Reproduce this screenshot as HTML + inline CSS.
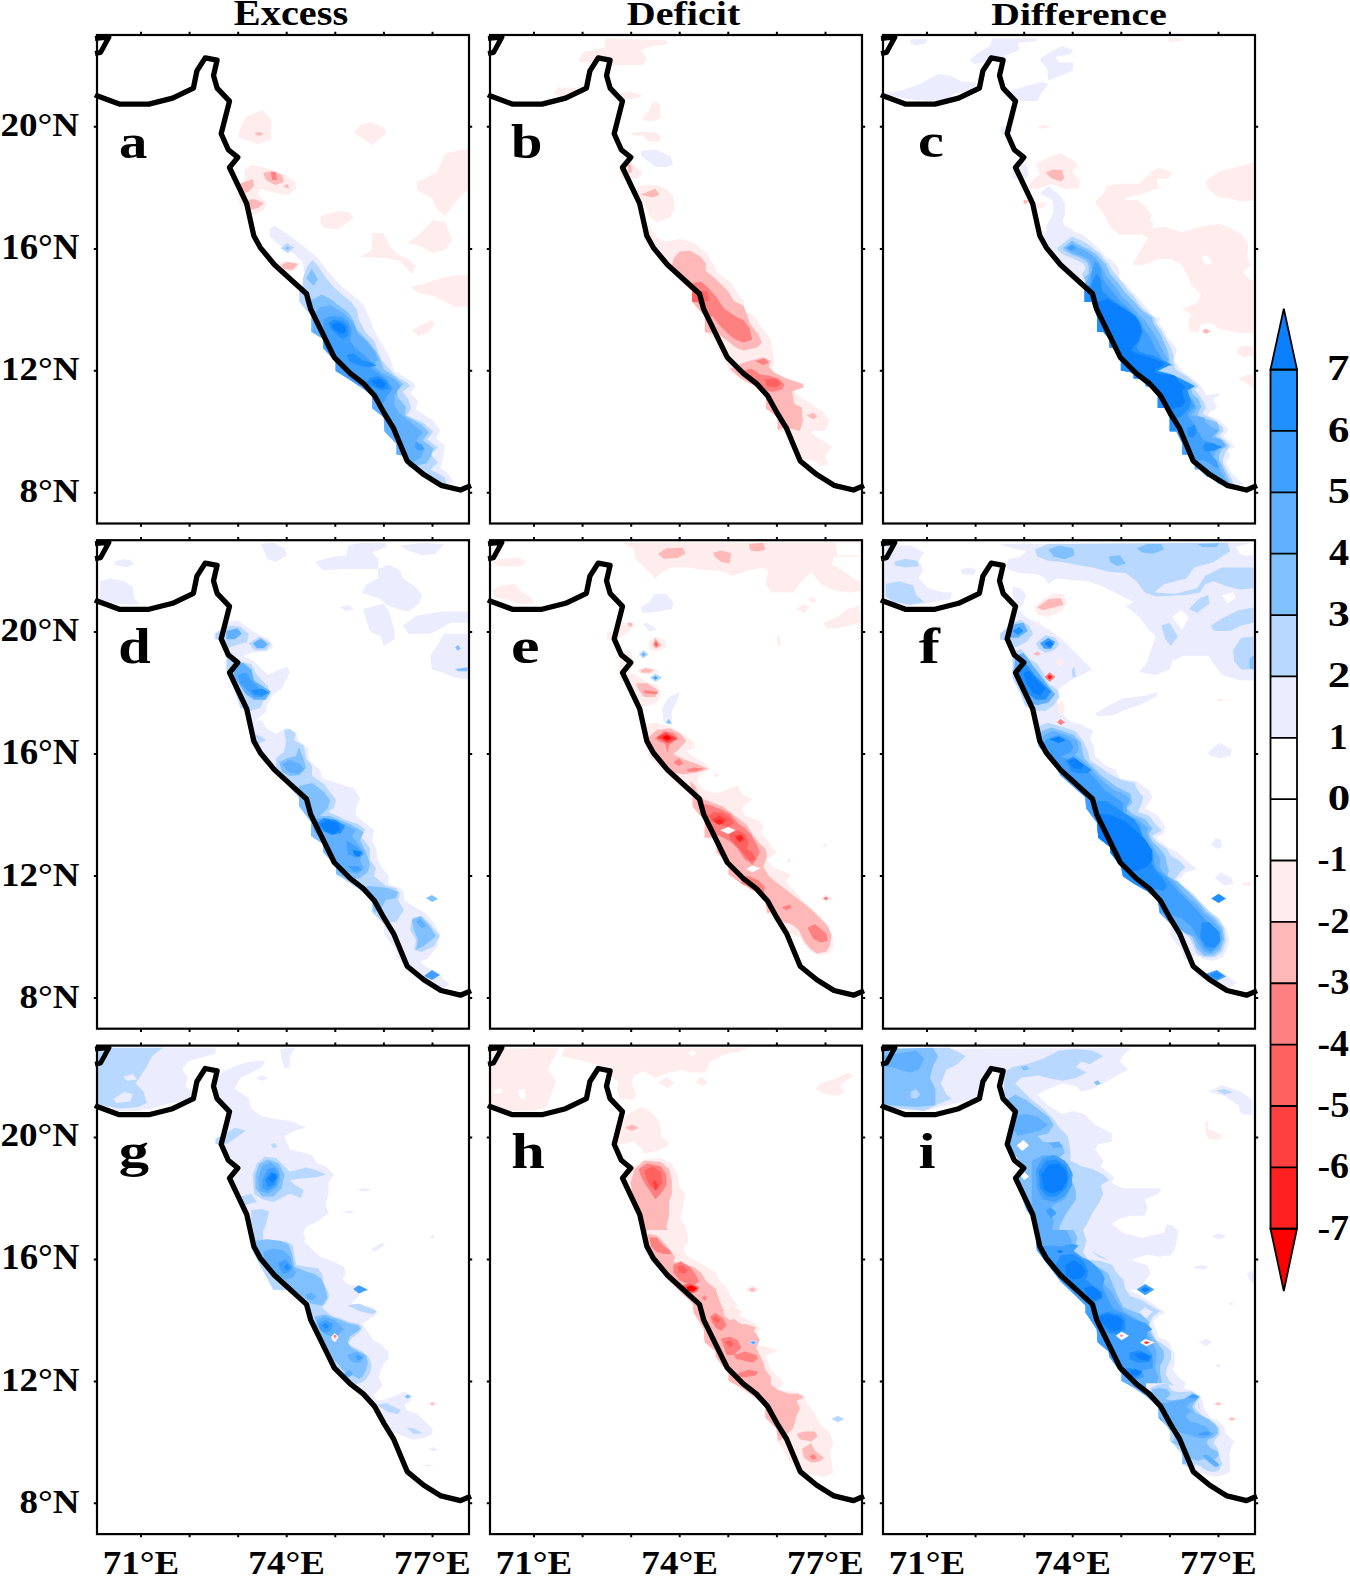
<!DOCTYPE html><html><head><meta charset="utf-8"><style>html,body{margin:0;padding:0;background:#fff;}svg{display:block;}text{font-family:"Liberation Serif",serif;font-weight:bold;}</style></head><body>
<svg width="1350" height="1577" viewBox="0 0 1350 1577">
<rect width="1350" height="1577" fill="#fff"/>
<defs><g id="coast"><polyline points="-2.0,59.7 0.0,60.8 22.3,69.1 51.9,69.1 75.6,63.1 96.4,53.1 99.9,35.9 108.2,22.9 120.1,25.2 116.5,40.6 120.1,53.1 132.5,66.1 124.2,98.7 131.3,114.7 140.8,122.4 132.5,132.5 149.7,168.7 156.8,200.7 163.3,212.6 177.5,229.7 209.5,258.8 213.7,274.2 237.3,322.3 253.3,338.3 266.3,348.3 277.6,360.8 287.1,378.0 296.6,393.4 310.2,426.0 326.8,439.6 344.0,450.3 363.5,455.0 372.0,451.4 374.0,450.5" fill="none" stroke="#000" stroke-width="5.3" stroke-linejoin="round" stroke-linecap="butt"/><polyline points="-2.0,3.5 12.0,2.0 3.5,17.5 -2.0,18.5" fill="none" stroke="#000" stroke-width="5" stroke-linejoin="round"/></g></defs>
<g transform="translate(97.0,35.0)">
<clipPath id="cpa"><rect x="0" y="0" width="372" height="488.5"/></clipPath>
<g clip-path="url(#cpa)">
<polygon points="149.0,82.0 165.0,75.0 174.0,84.0 174.0,105.0 161.0,109.0 141.0,102.0 144.0,91.0" fill="#ffecec"/>
<polygon points="157.0,98.0 162.0,97.0 167.0,99.0 162.0,101.0" fill="#ffb8b8"/>
<polygon points="257.0,98.0 263.0,90.0 274.0,87.0 288.0,93.0 289.0,99.0 275.0,110.0" fill="#ffecec"/>
<polygon points="320.0,147.0 329.0,143.0 340.0,137.0 348.0,119.0 363.0,115.0 372.0,115.0 372.0,154.0 360.0,165.0 348.0,181.0 339.0,173.0 335.0,163.0 320.0,155.0" fill="#ffecec"/>
<polygon points="224.0,181.0 241.0,176.0 251.0,177.0 257.0,183.0 241.0,194.0 227.0,193.0 223.0,187.0" fill="#ffecec"/>
<polygon points="263.0,222.0 275.0,215.0 275.0,198.0 286.0,198.0 294.0,213.0 303.0,221.0 310.0,223.0 319.0,231.0 315.0,239.0 303.0,226.0 289.0,223.0" fill="#ffecec"/>
<polygon points="310.0,208.0 323.0,199.0 336.0,185.0 348.0,187.0 355.0,205.0 348.0,215.0 336.0,218.0 323.0,211.0" fill="#ffecec"/>
<polygon points="314.0,252.0 327.0,249.0 347.0,242.0 363.0,240.0 372.0,240.0 372.0,271.0 358.0,272.0 349.0,267.0 337.0,261.0 321.0,258.0" fill="#ffecec"/>
<polygon points="315.0,295.0 324.0,290.0 335.0,285.0 338.0,290.0 330.0,298.0 321.0,301.0" fill="#ffecec"/>
<polygon points="149.0,133.0 155.0,130.0 169.0,133.0 187.0,139.0 198.0,147.0 199.0,154.0 191.0,160.0 175.0,157.0 163.0,154.0 161.0,160.0 169.0,167.0 167.0,175.0 155.0,180.0 149.0,173.0 142.0,168.0 141.0,159.0 143.0,151.0 148.0,143.0 147.0,137.0" fill="#ffecec"/>
<polygon points="166.0,138.0 175.0,136.0 185.0,140.0 187.0,147.0 178.0,150.0 169.0,145.0" fill="#ffb8b8"/>
<polygon points="174.0,137.0 179.0,137.0 180.0,145.0 175.0,145.0" fill="#ff8080"/>
<polygon points="142.0,149.0 156.0,144.0 157.0,151.0 151.0,157.0 142.0,159.0" fill="#ffb8b8"/>
<polygon points="151.0,165.0 157.0,164.0 167.0,168.0 161.0,173.0 153.0,175.0" fill="#ffb8b8"/>
<polygon points="186.0,151.0 191.0,149.0 192.0,154.0" fill="#ffb8b8"/>
<polygon points="179.0,234.0 185.0,226.0 203.0,228.0 199.0,235.0 189.0,238.0" fill="#ffecec"/>
<polygon points="184.0,230.0 191.0,227.0 201.0,229.0 195.0,235.0 187.0,234.0" fill="#ffb8b8"/>
<polygon points="173.0,193.0 177.4,190.7 190.8,198.9 202.3,208.1 214.7,217.9 221.0,223.2 226.3,230.8 234.3,240.1 244.0,250.7 254.7,259.6 265.4,268.5 271.6,280.9 276.0,293.3 284.0,307.6 288.5,314.7 293.8,325.3 297.3,336.0 315.1,346.6 318.6,352.0 313.3,358.2 321.3,366.2 318.6,374.2 336.4,385.7 343.5,395.5 339.1,403.5 348.0,410.6 346.2,421.2 343.5,432.8 351.5,439.0 356.8,447.9 348.0,449.7 332.9,440.8 324.0,437.2 315.1,433.7 311.5,431.9 310.7,421.2 299.5,419.5 299.5,408.8 287.6,396.4 286.7,382.2 275.1,373.3 275.1,360.8 262.7,351.1 250.3,343.1 238.7,336.0 238.7,327.1 226.3,312.9 226.3,304.0 214.2,296.9 214.2,280.9 202.3,266.7 202.3,256.0 204.1,252.5 207.6,243.6 205.9,227.6 197.9,219.6 183.7,211.6 173.0,201.9" fill="#ececff"/>
<polygon points="183.7,213.4 189.9,208.1 197.0,212.5 190.8,217.9" fill="#b8d8ff"/>
<polygon points="188.1,213.4 190.2,211.3 192.9,213.1 190.4,214.8" fill="#80c0ff"/>
<polygon points="205.9,243.6 210.3,231.2 215.6,225.0 221.8,232.1 228.1,241.8 236.1,251.6 244.0,258.7 254.7,267.6 260.0,274.7 261.8,284.5 268.9,297.8 277.8,306.7 280.5,315.6 284.9,325.3 291.1,332.4 298.2,340.4 309.8,347.5 313.3,351.1 305.3,356.4 311.5,364.4 314.2,373.3 309.8,380.4 325.8,387.5 336.4,396.4 330.2,404.4 340.9,412.4 333.7,419.5 340.9,427.5 333.7,434.6 348.0,442.5 349.7,449.7 348.0,449.7 332.9,440.8 324.0,437.2 315.1,433.7 311.5,431.9 310.7,421.2 299.5,419.5 299.5,408.8 287.6,396.4 286.7,382.2 275.1,373.3 275.1,360.8 262.7,351.1 250.3,343.1 238.7,336.0 238.7,327.1 226.3,312.9 226.3,304.0 214.2,296.9 214.2,280.9 202.3,266.7 202.3,256.0 205.9,256.0" fill="#b8d8ff"/>
<polygon points="209.4,243.6 214.7,233.8 221.0,244.5 216.5,250.7" fill="#80c0ff"/>
<polygon points="218.3,263.2 224.5,259.6 233.4,264.0 241.4,270.3 251.2,277.4 256.5,285.4 260.0,295.1 266.3,301.3 273.4,309.3 279.6,317.3 284.0,326.2 286.7,334.2 297.3,341.3 306.2,349.3 300.0,355.5 300.9,362.6 308.9,371.5 308.0,380.4 324.0,389.3 332.0,397.3 325.8,405.2 336.4,413.2 333.7,422.1 329.3,428.3 318.6,431.0 311.5,431.9 310.7,421.2 299.5,419.5 299.5,408.8 287.6,396.4 286.7,382.2 275.1,373.3 275.1,360.8 262.7,351.1 250.3,343.1 238.7,336.0 238.7,327.1 226.3,312.9 226.3,304.0 214.2,296.9 214.2,280.9 208.5,266.7" fill="#80c0ff"/>
<polygon points="223.6,272.0 233.4,270.3 247.6,279.1 256.5,288.0 260.9,298.7 268.9,305.8 277.8,316.4 281.3,325.3 275.1,329.8 284.9,337.8 297.3,344.0 303.6,351.1 297.3,360.8 297.3,369.7 302.7,378.6 315.1,388.4 325.8,397.3 319.5,405.2 327.5,414.1 324.0,423.0 313.3,428.3 310.7,421.2 299.5,419.5 299.5,408.8 287.6,396.4 286.7,382.2 275.1,373.3 275.1,360.8 262.7,351.1 250.3,343.1 238.7,336.0 238.7,327.1 226.3,312.9 226.3,304.0 215.6,296.9 215.6,280.9" fill="#60b0ff"/>
<polygon points="226.3,284.5 233.4,280.9 244.0,281.8 251.2,286.2 254.7,295.1 252.9,305.8 258.3,312.9 267.1,320.0 272.5,325.3 269.8,330.6 281.3,337.8 290.2,344.9 295.6,353.7 290.2,360.8 286.7,367.9 276.0,362.6 272.5,355.5 261.8,351.1 250.3,343.1 238.7,336.0 238.7,327.1 226.3,312.9 226.3,304.0" fill="#40a0ff"/>
<polygon points="318.6,407.0 324.9,409.7 327.5,414.1 322.2,415.9 317.8,412.4" fill="#40a0ff"/>
<polygon points="231.6,288.0 236.9,284.5 245.8,286.2 251.2,291.6 251.2,300.5 245.8,304.0 238.7,298.7 233.4,293.3" fill="#2090ff"/>
<polygon points="249.4,320.0 256.5,318.2 265.4,325.3 274.2,327.1 279.6,330.6 272.5,332.4 261.8,330.6 252.9,327.1" fill="#2090ff"/>
<polygon points="272.5,343.1 281.3,341.3 290.2,346.6 292.0,353.7 284.9,355.5 276.0,352.0 268.9,348.4" fill="#2090ff"/>
<polygon points="234.3,289.8 240.5,287.1 247.6,290.7 249.4,296.9 244.0,298.7 236.9,294.2" fill="#0a80ff"/>
<polygon points="274.2,344.9 283.1,344.0 288.5,348.4 286.7,352.9 279.6,352.0" fill="#0a80ff"/>
</g>
<use href="#coast"/>
<rect x="0" y="0" width="372" height="488.5" fill="none" stroke="#000" stroke-width="2.2"/>
<path d="M44.0,0v-3.2M44.0,488.5v3.2M92.6,0v-3.2M92.6,488.5v3.2M141.2,0v-3.2M141.2,488.5v3.2M189.7,0v-3.2M189.7,488.5v3.2M238.3,0v-3.2M238.3,488.5v3.2M286.9,0v-3.2M286.9,488.5v3.2M335.5,0v-3.2M335.5,488.5v3.2M0,91.8h-3.2M372,91.8h3.2M0,213.9h-3.2M372,213.9h3.2M0,335.8h-3.2M372,335.8h3.2M0,457.7h-3.2M372,457.7h3.2" stroke="#000" stroke-width="2" fill="none"/>
</g>
<g transform="translate(490.0,35.0)">
<clipPath id="cpb"><rect x="0" y="0" width="372" height="488.5"/></clipPath>
<g clip-path="url(#cpb)">
<polygon points="88.2,23.4 95.1,16.5 114.4,12.4 115.7,3.3 176.4,5.5 177.7,9.6 159.8,11.6 150.2,15.2 157.1,23.4 152.9,30.3 124.0,30.3 113.0,26.2 99.2,27.6 90.9,27.6" fill="#ffecec"/>
<polygon points="63.4,59.2 67.5,52.4 82.7,52.4 90.9,55.1 88.2,59.2 71.6,61.2" fill="#ffecec"/>
<polygon points="129.5,59.2 139.2,56.5 152.9,60.6 143.3,63.9 130.9,63.9" fill="#ffecec"/>
<polygon points="152.9,82.7 159.8,74.4 161.2,68.9 165.3,66.1 169.5,68.9 170.8,82.7 165.3,85.4 154.3,86.0" fill="#ffecec"/>
<polygon points="140.5,97.8 154.3,96.4 168.1,97.8 170.8,103.3 168.1,107.5 158.4,106.1 152.9,100.6 143.3,100.6" fill="#ffecec"/>
<polygon points="151.0,115.7 165.3,114.4 180.5,121.2 183.2,129.5 176.4,132.3 165.3,131.7 151.6,121.2" fill="#ececff"/>
<polygon points="129.5,129.5 137.8,126.2 143.3,129.5 152.9,137.8 148.8,143.3 132.3,144.7 129.0,137.8" fill="#ffecec"/>
<polygon points="137.8,130.1 141.1,129.5 141.9,137.2 138.3,137.8" fill="#ffb8b8"/>
<polygon points="143.3,157.1 152.9,150.2 168.1,150.2 176.4,154.3 183.2,161.2 184.6,172.2 180.5,181.9 166.7,187.4 159.8,181.9 154.3,168.1 148.8,162.6" fill="#ffecec"/>
<polygon points="150.2,159.8 165.3,153.8 169.5,159.8 162.6,162.6" fill="#ffb8b8"/>
<polygon points="158.5,190.2 166.3,201.9 176.0,206.7 189.6,203.8 203.1,207.7 215.8,217.4 224.5,231.0 226.4,236.8 242.0,248.4 245.8,256.2 253.6,265.9 253.6,275.6 265.2,281.4 269.1,289.2 280.8,304.7 282.7,316.4 284.7,328.0 280.8,335.8 296.3,343.5 311.8,348.4 314.7,351.3 304.1,357.1 311.8,362.9 323.5,370.7 333.2,376.5 339.0,386.2 335.1,395.9 319.6,395.9 329.3,403.7 341.9,411.5 335.1,421.2 338.0,428.9 331.2,430.9 323.5,425.0 311.8,424.1 307.9,415.3 306.0,405.6 294.4,395.9 287.6,395.9 287.6,382.3 275.9,373.6 275.9,361.0 263.3,350.3 250.7,343.5 239.1,335.8 238.1,331.9 227.4,312.5 226.4,306.7 214.8,297.0 214.8,281.4 202.2,266.9 202.2,256.2 195.4,250.4 187.6,242.6 179.9,234.9 174.0,227.1 164.3,215.5 156.6,203.8 154.2,202.8 154.2,192.2" fill="#ffecec"/>
<polygon points="183.7,223.2 189.6,216.4 200.2,215.8 209.9,221.3 215.8,228.1 215.8,235.8 226.4,244.6 238.1,256.2 243.9,265.9 253.6,270.8 257.5,281.4 260.4,289.2 268.2,298.9 272.0,307.6 267.2,312.5 253.6,315.4 245.8,312.5 236.1,304.7 228.4,298.9 214.8,297.0 214.8,281.4 202.2,266.9 202.2,256.2 195.4,250.4 187.6,242.6 181.8,231.0" fill="#ffb8b8"/>
<polygon points="240.0,333.8 255.5,327.0 273.0,322.2 280.8,326.1 278.8,331.9 284.7,337.7 296.3,343.5 311.8,348.4 313.8,352.3 302.1,356.2 304.1,368.8 311.8,372.6 312.8,386.2 309.9,395.9 294.4,392.1 287.6,395.0 287.6,382.3 275.9,373.6 275.9,361.0 263.3,350.3 250.7,343.5" fill="#ffb8b8"/>
<polygon points="316.7,380.4 323.5,377.5 327.3,381.4 323.5,384.3" fill="#ffb8b8"/>
<polygon points="201.2,248.4 210.9,246.5 217.7,252.3 226.4,262.0 234.2,273.7 245.8,281.4 253.6,285.3 259.4,293.1 262.3,304.7 253.6,307.6 245.8,304.7 238.1,298.9 230.3,291.1 222.6,281.4 214.8,281.4 214.8,275.6 207.0,266.9 202.2,266.9 202.2,256.2" fill="#ff8080"/>
<polygon points="202.2,256.2 217.7,256.2 218.7,265.9 202.2,266.9" fill="#ff6060"/>
<polygon points="251.7,335.8 261.4,333.8 271.1,339.7 278.8,340.6 288.5,343.5 294.4,349.4 292.4,354.2 282.7,357.1 275.0,355.2 265.2,348.4 257.5,343.5" fill="#ff8080"/>
<polygon points="275.0,344.5 284.7,343.5 291.4,348.4 286.6,352.3 276.9,351.3" fill="#ff6060"/>
<polygon points="265.2,326.1 275.0,323.2 278.8,328.0 273.0,330.0" fill="#ff8080"/>
</g>
<use href="#coast"/>
<rect x="0" y="0" width="372" height="488.5" fill="none" stroke="#000" stroke-width="2.2"/>
<path d="M44.0,0v-3.2M44.0,488.5v3.2M92.6,0v-3.2M92.6,488.5v3.2M141.2,0v-3.2M141.2,488.5v3.2M189.7,0v-3.2M189.7,488.5v3.2M238.3,0v-3.2M238.3,488.5v3.2M286.9,0v-3.2M286.9,488.5v3.2M335.5,0v-3.2M335.5,488.5v3.2M0,91.8h-3.2M372,91.8h3.2M0,213.9h-3.2M372,213.9h3.2M0,335.8h-3.2M372,335.8h3.2M0,457.7h-3.2M372,457.7h3.2" stroke="#000" stroke-width="2" fill="none"/>
</g>
<g transform="translate(883.0,35.0)">
<clipPath id="cpc"><rect x="0" y="0" width="372" height="488.5"/></clipPath>
<g clip-path="url(#cpc)">
<polygon points="27.6,4.1 44.1,4.1 42.7,8.3 33.1,10.5 27.6,8.3" fill="#ececff"/>
<polygon points="86.8,24.8 95.1,17.9 107.5,10.5 108.8,3.3 152.9,3.3 154.3,6.1 135.0,7.7 136.4,15.2 121.2,20.7 122.6,26.2 118.5,28.9 110.2,23.4 99.2,27.6 90.9,28.9" fill="#ececff"/>
<polygon points="157.1,23.4 168.1,16.5 179.1,11.0 190.1,15.2 187.4,19.3 172.2,22.0 176.4,27.6 190.1,27.6 190.1,35.8 176.4,41.3 165.3,45.5 164.0,33.1 158.4,27.6" fill="#ececff"/>
<polygon points="1.4,58.4 19.3,55.1 35.8,49.6 55.1,39.1 67.5,40.8 78.5,46.3 92.3,47.4 95.1,52.9 82.7,56.5 68.9,59.2 67.5,64.8 49.6,66.1 30.3,64.8 8.3,61.2" fill="#ececff"/>
<polygon points="125.4,56.5 143.3,51.0 159.8,46.8 165.3,49.6 158.4,57.9 154.3,66.1 137.8,66.1 129.5,64.8" fill="#ececff"/>
<polygon points="117.1,92.3 124.0,90.9 129.5,93.7 128.1,99.2 117.9,98.6" fill="#ececff"/>
<polygon points="129.5,132.3 137.8,124.0 143.3,129.5 146.0,140.5 140.5,144.7 129.5,143.3" fill="#ececff"/>
<polygon points="157.1,158.4 165.3,151.0 176.4,159.8 181.9,168.1 181.9,179.1 179.1,190.1 187.4,198.4 181.9,203.9 168.1,201.2 162.6,192.9 170.8,176.4 169.5,165.3" fill="#ececff"/>
<polygon points="147.4,147.4 157.1,139.2 152.9,129.5 165.3,122.6 177.7,117.9 192.9,127.3 194.3,130.9 188.8,136.4 197.0,146.0 196.2,152.9 181.9,154.3 168.1,148.8 154.3,154.3 146.0,152.9" fill="#ffecec"/>
<polygon points="162.6,137.8 169.5,134.5 179.1,135.0 181.3,143.3 177.7,146.6 168.1,143.3" fill="#ffb8b8"/>
<polygon points="150.2,166.7 165.3,168.1 158.4,173.6 148.8,172.2" fill="#ffecec"/>
<polygon points="140.5,165.3 144.7,165.3 144.7,168.6 140.5,168.6" fill="#ffb8b8"/>
<polygon points="213.6,165.3 221.8,157.1 223.2,151.0 237.0,148.8 256.3,148.8 264.5,140.5 272.8,140.5 275.6,152.9 256.3,159.8 242.5,162.6 239.7,169.5 259.0,176.4 271.4,190.1 264.5,192.9 256.3,199.8 237.0,199.8 228.7,192.9 226.0,179.1 217.7,172.2" fill="#ffecec"/>
<polygon points="265.9,137.8 275.6,132.8 289.3,137.2 285.2,143.3 272.8,143.8" fill="#ffecec"/>
<polygon points="322.4,146.0 336.2,136.4 352.7,132.3 363.7,129.5 370.6,126.8 370.6,165.3 358.2,166.7 350.0,164.0 336.2,162.6 325.2,154.3" fill="#ffecec"/>
<polygon points="154.3,91.5 162.6,89.6 168.1,92.3 157.1,93.7" fill="#ffecec"/>
<polygon points="285.2,6.9 286.6,3.3 300.4,3.3 297.6,6.1" fill="#ffecec"/>
<polygon points="213.6,165.0 253.5,165.0 261.1,170.7 268.7,180.2 264.9,187.8 268.7,193.5 280.1,191.6 299.1,197.3 318.2,191.6 337.2,188.8 348.6,193.5 360.0,201.1 365.7,210.6 363.8,220.2 367.6,229.7 360.0,237.3 367.6,244.9 370.5,244.9 370.5,298.1 356.2,298.1 337.2,294.3 329.6,288.6 318.2,288.6 314.4,298.1 306.8,296.2 304.9,286.7 308.7,279.1 301.1,273.4 314.4,267.7 318.2,260.1 308.7,250.6 304.9,241.1 299.1,229.7 287.7,224.0 276.3,224.0 261.1,229.7 249.7,229.7 253.5,222.1 259.2,212.5 264.9,203.0 253.5,195.4 240.2,199.2 226.9,191.6 223.1,184.0 219.3,176.4 212.6,168.8" fill="#ffecec"/>
<polygon points="318.2,222.1 324.8,220.2 329.6,227.8 322.9,230.6" fill="#ffffff"/>
<polygon points="319.1,296.2 322.9,293.4 327.7,296.2 322.9,299.1" fill="#ffb8b8"/>
<polygon points="354.3,313.3 360.0,310.5 370.5,311.4 370.5,321.0 360.0,321.9 355.3,319.1" fill="#ffecec"/>
<polygon points="355.3,343.8 363.8,340.0 370.5,339.0 370.5,353.3 361.9,347.6" fill="#ffecec"/>
<polygon points="299.1,274.4 308.7,270.6 314.4,273.4 308.7,279.1" fill="#ffecec"/>
<polygon points="162.2,198.5 165.3,192.3 170.5,187.1 179.8,186.0 180.9,190.2 187.1,193.3 191.2,196.4 199.5,199.5 205.7,204.7 210.9,208.9 217.1,215.1 223.4,222.3 228.6,225.4 233.7,230.6 236.9,236.9 235.8,243.1 243.1,249.3 248.3,255.5 253.4,260.7 258.6,266.9 264.9,274.2 271.1,281.4 277.3,282.5 275.2,287.7 280.4,293.9 283.5,301.1 288.7,307.4 293.9,313.6 291.4,325.0 298.9,336.1 310.0,343.5 318.3,350.9 322.9,360.2 335.9,358.3 337.7,359.3 330.3,363.9 334.0,373.1 326.6,376.9 324.8,380.6 335.0,384.3 343.3,391.7 345.1,395.4 340.5,400.9 347.0,406.5 351.6,412.0 345.1,414.8 347.0,421.3 343.3,426.9 347.0,436.1 354.4,443.5 360.0,449.1 356.3,450.9 345.1,450.0 335.9,449.1 327.6,442.6 323.9,441.7 316.4,434.3 311.8,434.3 311.8,429.6 304.4,419.4 299.3,419.4 299.3,408.3 293.3,396.3 286.8,396.3 286.8,383.3 282.2,373.1 274.8,373.1 274.8,361.1 267.4,351.9 262.7,350.9 262.7,349.1 256.3,343.5 250.7,343.5 250.7,338.9 247.0,337.0 237.9,335.4 237.9,322.9 231.7,312.6 226.5,312.6 226.5,304.3 220.3,297.0 214.0,297.0 214.0,281.4 208.9,266.9 201.6,266.9 201.6,255.5 207.8,257.6 176.7,228.6 163.2,210.9 158.0,200.6 159.1,195.4" fill="#ececff"/>
<polygon points="174.6,213.0 180.9,207.8 189.1,201.6 196.4,204.7 204.7,208.9 210.9,214.0 217.1,218.2 221.3,224.4 225.4,228.6 229.6,235.8 234.8,242.0 240.0,248.3 245.1,255.5 250.3,260.7 256.6,270.0 261.7,275.2 269.0,280.4 272.1,283.5 273.1,288.7 278.3,294.9 281.4,301.1 285.6,308.4 288.7,314.6 290.8,320.8 290.5,325.0 292.4,334.3 304.4,341.7 315.5,350.9 311.8,354.6 316.4,360.2 321.1,367.6 322.9,373.1 319.2,378.7 330.3,384.3 335.9,388.9 339.6,391.7 340.5,396.3 335.9,400.9 343.3,406.5 347.0,411.1 343.3,415.7 340.5,422.2 339.6,426.9 343.3,434.3 348.9,444.4 350.7,449.1 345.1,450.0 335.9,449.1 327.6,442.6 323.9,441.7 316.4,434.3 311.8,434.3 311.8,429.6 304.4,419.4 299.3,419.4 299.3,408.3 293.3,396.3 286.8,396.3 286.8,383.3 282.2,373.1 274.8,373.1 274.8,361.1 267.4,351.9 262.7,350.9 262.7,349.1 256.3,343.5 250.7,343.5 250.7,338.9 247.0,337.0 237.9,335.4 237.9,322.9 231.7,312.6 226.5,312.6 226.5,304.3 220.3,297.0 214.0,297.0 214.0,281.4 208.9,266.9 201.6,266.9 201.6,255.5 201.6,243.1 198.5,240.0 202.6,233.7 200.6,228.6 194.3,225.4 187.1,222.3 179.8,219.2 174.6,215.1" fill="#b8d8ff"/>
<polygon points="179.8,213.0 189.1,205.2 194.3,208.9 200.6,212.0 206.8,215.1 213.0,219.2 219.2,225.4 223.4,230.6 226.5,237.9 231.7,244.1 236.9,250.3 242.0,257.6 246.2,261.7 252.4,268.0 258.6,275.2 264.9,279.4 269.0,282.5 270.0,287.7 274.2,293.9 277.3,299.1 280.4,306.3 283.5,312.6 285.6,319.8 286.8,325.0 285.9,330.6 280.3,332.4 274.8,336.1 285.9,338.9 298.9,343.5 311.8,350.9 308.1,354.6 310.0,359.3 315.5,363.9 318.3,371.3 315.5,376.9 314.6,380.6 323.9,384.3 334.0,387.0 335.9,391.7 336.8,395.4 332.2,400.9 339.6,405.6 344.2,411.1 338.7,414.8 335.9,420.4 335.9,425.0 339.6,431.5 341.4,436.1 347.0,447.2 345.1,450.0 335.9,449.1 327.6,442.6 323.9,441.7 316.4,434.3 311.8,434.3 311.8,429.6 304.4,419.4 299.3,419.4 299.3,408.3 293.3,396.3 286.8,396.3 286.8,383.3 282.2,373.1 274.8,373.1 274.8,361.1 267.4,351.9 262.7,350.9 262.7,349.1 256.3,343.5 250.7,343.5 250.7,338.9 247.0,337.0 237.9,335.4 237.9,322.9 231.7,312.6 226.5,312.6 226.5,304.3 220.3,297.0 214.0,297.0 214.0,281.4 208.9,266.9 201.6,266.9 201.6,255.5 202.6,245.1 200.6,243.1 205.7,238.9 205.7,230.6 203.7,226.5 196.4,222.3 188.1,219.2 182.9,216.1" fill="#80c0ff"/>
<polygon points="182.9,213.0 189.1,208.3 195.4,212.5 201.6,215.1 207.8,219.2 213.0,223.4 217.1,228.6 220.3,234.8 223.4,241.0 228.6,247.2 233.7,253.4 238.9,261.7 244.1,265.9 250.3,273.1 256.6,280.4 261.7,284.6 264.9,289.7 270.0,297.0 274.2,304.3 277.3,310.5 281.4,318.8 285.6,325.0 282.2,327.8 270.1,336.1 282.2,338.0 295.1,343.5 308.1,350.9 302.6,356.5 306.3,361.1 310.9,366.7 313.7,373.1 310.9,376.9 308.1,380.6 321.1,382.4 322.9,388.0 328.5,391.7 335.9,395.4 328.5,401.9 337.7,404.6 342.4,410.2 335.9,413.9 332.2,417.6 330.3,423.1 335.9,430.6 337.7,436.1 342.4,444.4 345.1,448.1 345.1,450.0 335.9,449.1 327.6,442.6 323.9,441.7 316.4,434.3 311.8,434.3 311.8,429.6 304.4,419.4 299.3,419.4 299.3,408.3 293.3,396.3 286.8,396.3 286.8,383.3 282.2,373.1 274.8,373.1 274.8,361.1 267.4,351.9 262.7,350.9 262.7,349.1 256.3,343.5 250.7,343.5 250.7,338.9 247.0,337.0 237.9,335.4 237.9,322.9 231.7,312.6 226.5,312.6 226.5,304.3 220.3,297.0 214.0,297.0 214.0,281.4 208.9,266.9 201.6,266.9 201.6,255.5 203.7,247.2 208.9,234.8 207.8,228.6 205.7,224.4 198.5,221.3 191.2,218.2 186.0,216.1" fill="#60b0ff"/>
<polygon points="207.8,241.0 212.0,226.5 215.1,228.6 218.2,234.8 219.2,243.1 223.4,249.3 228.6,255.5 233.7,261.7 238.9,268.0 244.1,272.1 250.3,278.3 254.5,282.5 257.6,288.7 261.7,294.9 265.9,300.1 269.0,306.3 271.1,311.5 276.3,319.8 281.4,328.1 276.6,328.7 269.2,334.3 271.1,337.0 282.2,338.0 293.3,343.5 304.4,352.8 300.7,357.4 302.6,362.0 308.1,365.7 311.8,371.3 306.3,376.9 304.4,380.6 311.8,389.8 315.5,397.2 321.1,405.6 330.3,408.3 335.9,411.1 330.3,413.9 326.6,415.7 329.4,421.3 334.0,425.9 335.9,433.3 332.2,432.4 325.7,427.8 319.2,425.0 313.7,425.9 311.8,429.6 304.4,419.4 299.3,419.4 299.3,408.3 293.3,396.3 286.8,396.3 286.8,383.3 282.2,373.1 274.8,373.1 274.8,361.1 267.4,351.9 262.7,350.9 262.7,349.1 256.3,343.5 250.7,343.5 250.7,338.9 247.0,337.0 237.9,335.4 237.9,322.9 231.7,312.6 226.5,312.6 226.5,304.3 220.3,297.0 214.0,297.0 214.0,281.4 208.9,266.9 201.6,266.9 201.6,255.5 207.8,247.2" fill="#40a0ff"/>
<polygon points="184.0,213.0 189.1,209.9 193.3,213.0 189.1,215.6" fill="#40a0ff"/>
<polygon points="202.6,251.4 207.8,251.4 210.9,243.1 213.0,238.9 216.1,241.0 218.2,247.2 219.2,255.5 223.4,259.7 229.6,264.9 237.9,271.1 246.2,276.3 252.4,280.4 257.6,287.7 259.7,296.0 257.6,303.2 255.5,308.4 253.4,312.6 256.6,316.7 262.8,318.8 271.1,320.8 277.3,324.0 283.5,327.1 289.7,330.2 285.9,330.6 274.8,336.1 287.7,338.9 298.9,344.4 311.8,350.9 304.4,355.6 306.3,361.1 308.1,365.7 306.3,373.1 302.6,376.9 297.0,382.4 293.3,384.3 286.8,396.3 286.8,383.3 282.2,373.1 274.8,373.1 274.8,361.1 267.4,351.9 262.7,350.9 262.7,349.1 256.3,343.5 250.7,343.5 250.7,338.9 247.0,337.0 237.9,335.4 237.9,322.9 231.7,312.6 226.5,312.6 226.5,304.3 220.3,297.0 214.0,297.0 214.0,281.4 208.9,266.9 201.6,266.9 201.6,255.5" fill="#2090ff"/>
<polygon points="286.8,383.3 293.3,383.3 293.3,396.3 286.8,396.3" fill="#2090ff"/>
<polygon points="304.4,393.5 311.8,389.8 313.7,397.2 310.0,402.8 304.4,400.9" fill="#2090ff"/>
<polygon points="319.2,412.0 322.9,407.4 330.3,408.3 339.6,412.0 330.3,415.7 322.9,416.7" fill="#2090ff"/>
<polygon points="213.5,266.9 219.2,265.9 224.4,263.8 229.6,266.9 237.9,272.1 246.2,277.3 252.4,281.4 256.6,288.7 258.6,296.0 256.6,302.2 254.5,307.4 250.3,311.5 248.3,315.7 254.5,318.8 261.7,320.8 269.0,322.9 276.3,326.0 281.4,328.1 279.4,331.2 273.1,334.3 271.1,337.4 279.4,339.5 291.8,340.6 295.1,345.4 302.6,351.9 298.9,355.6 300.7,362.0 302.6,366.7 298.9,371.3 291.4,373.1 285.9,376.9 277.6,360.2 259.0,342.6 247.0,331.5 236.9,321.9 225.4,299.1 213.5,274.2" fill="#0a80ff"/>
</g>
<use href="#coast"/>
<rect x="0" y="0" width="372" height="488.5" fill="none" stroke="#000" stroke-width="2.2"/>
<path d="M44.0,0v-3.2M44.0,488.5v3.2M92.6,0v-3.2M92.6,488.5v3.2M141.2,0v-3.2M141.2,488.5v3.2M189.7,0v-3.2M189.7,488.5v3.2M238.3,0v-3.2M238.3,488.5v3.2M286.9,0v-3.2M286.9,488.5v3.2M335.5,0v-3.2M335.5,488.5v3.2M0,91.8h-3.2M372,91.8h3.2M0,213.9h-3.2M372,213.9h3.2M0,335.8h-3.2M372,335.8h3.2M0,457.7h-3.2M372,457.7h3.2" stroke="#000" stroke-width="2" fill="none"/>
</g>
<g transform="translate(97.0,540.2)">
<clipPath id="cpd"><rect x="0" y="0" width="372" height="488.5"/></clipPath>
<g clip-path="url(#cpd)">
<polygon points="16.5,21.8 26.2,19.1 33.1,19.6 37.2,24.0 30.3,26.8 19.3,25.2" fill="#ececff"/>
<polygon points="2.8,41.1 13.8,38.4 27.6,41.1 35.8,46.6 37.2,57.7 42.7,63.7 33.1,64.6 13.8,63.2 2.8,61.8" fill="#ececff"/>
<polygon points="164.0,3.9 176.4,2.6 187.4,8.1 190.1,15.0 179.1,21.8 170.8,19.1" fill="#ececff"/>
<polygon points="217.7,21.8 234.2,16.9 249.4,15.0 250.8,5.3 264.5,2.6 289.3,2.6 289.3,6.7 275.6,12.2 281.1,19.1 281.1,28.7 250.8,28.7 226.0,30.1" fill="#ececff"/>
<polygon points="264.5,52.2 270.0,43.9 281.1,38.4 281.1,28.7 292.1,24.6 303.1,30.1 305.9,38.4 316.9,45.3 325.2,54.9 322.4,63.2 311.4,71.4 300.4,68.7 289.3,64.6 283.8,59.0" fill="#ececff"/>
<polygon points="305.9,85.2 319.6,75.6 344.4,71.4 370.6,71.4 370.6,82.5 352.7,82.5 344.4,88.0 333.4,93.5 311.4,93.5" fill="#ececff"/>
<polygon points="303.1,5.3 325.2,2.6 347.2,3.9 338.9,13.6 325.2,15.0 308.6,9.4" fill="#ececff"/>
<polygon points="265.9,68.7 286.6,63.2 292.1,71.4 297.6,90.7 297.6,99.0 286.6,105.9 283.8,96.2 272.8,90.7" fill="#ececff"/>
<polygon points="333.4,115.5 347.2,93.5 370.6,93.5 370.6,139.0 358.2,137.6 344.4,132.1 334.8,129.3" fill="#ececff"/>
<polygon points="242.5,67.3 250.8,64.6 257.6,68.7 249.4,70.9" fill="#ececff"/>
<polygon points="358.2,107.3 361.0,104.5 363.7,108.6 360.4,110.6" fill="#80c0ff"/>
<polygon points="358.2,128.8 370.6,127.1 370.6,131.0 361.0,131.0" fill="#80c0ff"/>
<polygon points="117.1,93.5 129.5,82.5 140.5,79.7 151.6,88.0 159.8,93.5 172.2,99.0 176.4,107.3 168.1,111.4 154.3,112.8 146.0,115.5 157.1,121.0 165.3,129.3 170.8,134.8 181.9,129.3 190.1,126.6 192.9,132.1 184.6,148.6 176.4,154.1 168.1,167.9 165.3,173.4 151.6,173.4 143.3,167.9 140.5,159.6 132.3,134.8 129.5,129.3 129.5,115.5 124.0,99.0 117.1,99.0" fill="#ececff"/>
<polygon points="118.5,93.5 132.3,85.2 143.3,86.6 151.6,93.5 150.2,101.8 140.5,104.5 132.3,107.3 129.5,115.5 140.5,121.0 154.3,123.8 159.8,134.8 170.8,145.8 173.6,154.1 165.3,165.1 154.3,167.9 143.3,167.9 141.9,162.4 132.3,134.8 129.5,129.3 129.5,115.5 124.0,99.0 118.5,99.0" fill="#b8d8ff"/>
<polygon points="151.6,103.1 162.6,96.2 173.6,103.1 169.5,110.0 157.1,110.0" fill="#b8d8ff"/>
<polygon points="129.5,90.7 140.5,88.0 144.7,93.5 137.8,99.0 129.5,99.0" fill="#60b0ff"/>
<polygon points="155.7,103.1 164.0,98.4 170.8,104.0 166.7,108.1 159.8,108.1" fill="#60b0ff"/>
<polygon points="135.0,126.6 146.0,122.4 154.3,129.3 157.1,140.3 165.3,145.8 173.6,151.4 168.1,159.6 157.1,159.6 148.8,154.1 143.3,145.8 137.8,137.6" fill="#60b0ff"/>
<polygon points="140.5,134.8 148.8,132.1 154.3,140.3 162.6,148.6 170.8,151.4 165.3,156.9 157.1,156.9 148.8,148.6 143.3,143.1" fill="#40a0ff"/>
<polygon points="154.3,150.0 165.3,148.6 172.2,152.7 165.3,155.5 157.1,154.1" fill="#2090ff"/>
<polygon points="141.0,159.8 171.0,159.8 169.0,171.8 157.0,181.8 165.0,179.8 169.0,187.8 179.0,193.8 189.0,187.8 199.0,191.8 201.0,199.8 211.0,207.8 212.0,219.8 223.0,229.8 225.0,237.8 243.0,243.8 257.0,247.8 263.0,257.8 259.0,267.8 259.0,275.8 277.0,289.8 275.0,299.8 279.0,307.8 281.0,319.8 285.0,327.8 292.0,335.8 291.0,343.8 303.0,347.8 307.0,351.8 307.0,359.8 319.0,367.8 327.0,371.8 335.0,379.8 343.0,393.8 341.0,405.8 331.0,417.8 323.0,421.8 331.0,427.8 343.0,433.8 347.0,439.8 353.0,443.8 347.0,447.8 343.0,449.8 311.0,427.8 301.0,417.8 299.0,409.8 287.0,393.8 287.0,383.8 275.0,371.8 275.0,359.8 263.0,349.8 251.0,341.8 239.0,333.8 239.0,325.8 226.0,311.8 226.0,303.8 214.0,295.8 214.0,281.8 202.0,265.8 202.0,257.8 179.0,231.8 157.0,205.8 153.0,203.8 153.0,193.8 147.0,167.8" fill="#ececff"/>
<polygon points="141.0,159.8 167.0,159.8 163.0,167.8 151.0,171.8" fill="#b8d8ff"/>
<polygon points="157.0,193.8 163.0,195.8 169.0,199.8 161.0,203.8 155.0,203.8" fill="#b8d8ff"/>
<polygon points="179.0,217.8 187.0,211.8 189.0,201.8 187.0,189.8 193.0,188.8 199.0,193.8 197.0,199.8 207.0,205.8 209.0,217.8 215.0,225.8 215.0,235.8 227.0,243.8 233.0,251.8 239.0,259.8 237.0,267.8 231.0,271.8 241.0,275.8 249.0,279.8 261.0,283.8 269.0,289.8 261.0,293.8 267.0,299.8 273.0,307.8 273.0,319.8 279.0,327.8 277.0,335.8 289.0,345.8 299.0,347.8 303.0,353.8 301.0,359.8 307.0,369.8 303.0,375.8 299.0,381.8 289.0,381.8 287.0,383.8 275.0,371.8 275.0,359.8 263.0,349.8 251.0,341.8 239.0,333.8 239.0,325.8 226.0,311.8 226.0,303.8 214.0,295.8 214.0,281.8 202.0,265.8 202.0,257.8 179.0,231.8" fill="#b8d8ff"/>
<polygon points="315.0,377.8 325.0,375.8 333.0,383.8 343.0,395.8 337.0,405.8 325.0,411.8 317.0,409.8 319.0,399.8 313.0,389.8" fill="#b8d8ff"/>
<polygon points="182.0,221.8 191.0,217.8 199.0,215.8 202.0,206.8 207.0,219.8 209.0,227.8 203.0,234.8 193.0,235.8 185.0,231.8" fill="#80c0ff"/>
<polygon points="202.0,245.8 215.0,242.8 227.0,251.8 233.0,259.8 231.0,267.8 223.0,275.8 233.0,275.8 243.0,279.8 253.0,283.8 267.0,291.8 263.0,299.8 269.0,311.8 273.0,323.8 271.0,331.8 263.0,337.8 251.0,339.8 239.0,333.8 239.0,325.8 226.0,311.8 226.0,303.8 214.0,295.8 214.0,281.8 202.0,265.8 202.0,257.8" fill="#80c0ff"/>
<polygon points="263.0,347.8 273.0,345.8 291.0,347.8 301.0,351.8 299.0,357.8 289.0,359.8 283.0,369.8 277.0,371.8 275.0,359.8 263.0,349.8" fill="#80c0ff"/>
<polygon points="315.0,379.8 323.0,375.8 331.0,383.8 339.0,395.8 327.0,405.8 319.0,409.8 321.0,399.8 317.0,389.8" fill="#80c0ff"/>
<polygon points="185.0,223.8 193.0,219.8 203.0,223.8 207.0,228.8 201.0,233.8 191.0,231.8" fill="#60b0ff"/>
<polygon points="215.0,279.8 223.0,277.8 235.0,279.8 247.0,283.8 259.0,289.8 255.0,295.8 261.0,303.8 267.0,311.8 263.0,319.8 267.0,327.8 261.0,333.8 251.0,331.8 241.0,325.8 231.0,309.8 227.0,299.8 217.0,291.8" fill="#60b0ff"/>
<polygon points="319.0,381.8 323.0,377.8 329.0,385.8 325.0,387.8" fill="#60b0ff"/>
<polygon points="249.0,299.8 261.0,307.8 267.0,313.8 259.0,317.8 251.0,313.8" fill="#40a0ff"/>
<polygon points="251.0,325.8 261.0,325.8 265.0,329.8 257.0,331.8" fill="#40a0ff"/>
<polygon points="220.0,282.8 227.0,277.8 239.0,279.8 248.0,285.8 244.0,292.8 235.0,294.8 226.0,290.8" fill="#2090ff"/>
<polygon points="223.0,283.8 231.0,279.8 241.0,282.8 243.0,289.8 237.0,293.8 229.0,291.8" fill="#0a80ff"/>
<polygon points="256.0,309.8 265.0,311.8 262.0,316.8 257.0,314.8" fill="#0a80ff"/>
<polygon points="327.0,435.8 335.0,429.8 343.0,434.8 335.0,439.8" fill="#40a0ff"/>
<polygon points="329.0,357.8 335.0,354.8 341.0,358.8 335.0,361.8" fill="#80c0ff"/>
</g>
<use href="#coast"/>
<rect x="0" y="0" width="372" height="488.5" fill="none" stroke="#000" stroke-width="2.2"/>
<path d="M44.0,0v-3.2M44.0,488.5v3.2M92.6,0v-3.2M92.6,488.5v3.2M141.2,0v-3.2M141.2,488.5v3.2M189.7,0v-3.2M189.7,488.5v3.2M238.3,0v-3.2M238.3,488.5v3.2M286.9,0v-3.2M286.9,488.5v3.2M335.5,0v-3.2M335.5,488.5v3.2M0,91.8h-3.2M372,91.8h3.2M0,213.9h-3.2M372,213.9h3.2M0,335.8h-3.2M372,335.8h3.2M0,457.7h-3.2M372,457.7h3.2" stroke="#000" stroke-width="2" fill="none"/>
</g>
<g transform="translate(490.0,540.2)">
<clipPath id="cpe"><rect x="0" y="0" width="372" height="488.5"/></clipPath>
<g clip-path="url(#cpe)">
<polygon points="132.3,2.6 370.6,2.6 370.6,16.3 355.5,16.3 344.4,16.3 341.7,24.6 352.7,30.1 363.7,38.4 370.6,41.1 370.6,50.8 358.2,52.2 341.7,49.4 330.7,43.9 322.4,32.9 314.1,38.4 303.1,52.2 281.1,52.2 275.6,43.9 278.3,30.1 272.8,27.4 259.0,30.1 242.5,35.6 228.7,30.1 214.9,30.1 198.4,27.4 181.9,27.4 170.8,32.9 165.3,38.4 157.1,30.1 146.0,19.1 143.3,8.1" fill="#ffecec"/>
<polygon points="345.8,3.1 370.6,3.1 370.6,15.0 347.2,15.0" fill="#ffffff"/>
<polygon points="168.1,13.6 176.4,8.1 192.9,7.5 195.6,13.6 187.4,17.7 173.6,18.5" fill="#ffb8b8"/>
<polygon points="223.2,12.2 231.5,10.3 241.1,13.0 239.7,23.2 231.5,21.8 224.6,16.3" fill="#ffb8b8"/>
<polygon points="259.0,3.9 272.8,2.6 275.6,9.4 267.3,11.4 260.4,10.3" fill="#ffb8b8"/>
<polygon points="2.8,21.8 11.0,18.5 30.3,17.7 35.8,21.8 30.3,26.0 8.3,26.0" fill="#ffecec"/>
<polygon points="2.8,49.4 11.0,45.3 24.8,43.9 30.3,50.8 41.3,57.7 44.1,63.2 30.3,63.7 16.5,59.0 5.5,57.7" fill="#ffecec"/>
<polygon points="150.2,67.3 159.8,61.8 164.0,53.5 176.4,53.5 183.2,61.8 181.9,68.7 165.3,72.0 152.9,72.8" fill="#ececff"/>
<polygon points="305.9,68.7 314.1,63.7 319.6,67.3 314.1,72.8" fill="#ffecec"/>
<polygon points="318.3,59.0 322.4,56.3 326.5,60.4 322.4,62.6" fill="#ffecec"/>
<polygon points="333.4,82.5 347.2,77.0 358.2,68.7 369.2,65.9 370.6,82.5 358.2,85.2 347.2,88.0 336.2,88.0" fill="#ffecec"/>
<polygon points="286.6,94.9 289.3,96.2 290.7,104.5 288.0,105.9" fill="#ffecec"/>
<polygon points="117.1,92.1 124.0,90.7 132.3,82.5 140.5,81.9 144.7,85.2 136.4,93.5 126.8,99.0 117.1,99.0" fill="#ffecec"/>
<polygon points="137.8,82.5 142.7,83.0 141.9,86.3 138.3,85.8" fill="#ffb8b8"/>
<polygon points="152.9,83.8 157.1,82.5 166.7,89.4 159.8,91.3" fill="#ececff"/>
<polygon points="158.4,101.8 165.3,96.2 175.0,100.4 176.4,107.3 166.7,111.4 159.3,108.6" fill="#ffecec"/>
<polygon points="162.0,105.1 165.3,97.9 171.4,105.6 165.9,108.9" fill="#ffb8b8"/>
<polygon points="164.2,104.5 165.9,100.1 168.6,105.1 166.2,106.7" fill="#ff6060"/>
<polygon points="148.8,114.2 153.5,110.0 158.4,114.2 153.5,118.3" fill="#b8d8ff"/>
<polygon points="151.6,114.2 153.5,112.2 155.7,114.2 153.5,116.1" fill="#60b0ff"/>
<polygon points="129.5,112.8 137.8,110.0 141.9,115.5 143.3,123.8 139.2,132.1 132.3,141.7 129.5,137.6" fill="#ffecec"/>
<polygon points="147.4,129.3 154.3,126.6 165.3,128.8 169.5,132.1 159.8,134.3 150.2,133.4" fill="#ffecec"/>
<polygon points="150.2,130.4 155.7,127.9 164.0,129.9 159.8,132.6 152.1,132.6" fill="#ffb8b8"/>
<polygon points="159.8,137.6 165.3,133.4 172.2,137.6 165.3,141.7" fill="#b8d8ff"/>
<polygon points="163.1,137.6 165.3,135.7 168.1,137.6 165.3,139.5" fill="#40a0ff"/>
<polygon points="135.0,134.8 143.3,133.4 154.3,140.3 168.1,145.8 170.8,154.1 166.7,162.4 154.3,166.5 146.0,165.1 143.3,156.9 137.8,145.8" fill="#ffecec"/>
<polygon points="146.0,143.1 157.1,143.1 168.1,150.0 165.3,156.9 154.3,156.9 148.8,150.0" fill="#ffb8b8"/>
<polygon points="154.3,150.0 168.1,151.9 166.7,154.1 154.3,153.0" fill="#ff8080"/>
<polygon points="172.2,167.9 179.1,156.9 190.1,151.4 187.4,159.6 181.9,170.6 181.9,181.7 173.6,181.7" fill="#ececff"/>
<polygon points="175.8,183.0 178.6,178.9 181.9,183.9" fill="#80c0ff"/>
<polygon points="157.6,183.5 166.8,182.6 181.5,187.2 194.4,194.5 203.6,201.9 205.4,207.4 196.2,211.1 203.6,216.6 212.8,222.1 220.1,227.6 216.4,231.3 209.1,235.0 207.2,242.3 214.6,249.7 225.6,253.4 236.7,249.7 247.7,245.1 251.4,253.4 262.4,258.9 251.4,268.1 255.0,275.4 269.8,280.9 273.4,286.5 269.8,292.0 277.1,299.3 282.6,308.5 286.3,312.2 277.1,319.6 282.6,326.9 301.0,334.3 295.5,341.6 302.9,349.0 310.2,356.3 313.9,361.9 324.9,371.0 334.1,380.2 339.6,389.4 343.3,396.8 343.3,407.8 339.6,413.3 328.6,415.2 321.2,411.5 313.9,404.1 310.2,396.8 302.9,395.0 295.5,391.3 288.1,380.2 277.1,372.9 275.3,361.9 264.2,350.8 251.4,343.5 238.5,334.3 238.5,323.2 226.5,312.2 226.5,297.5 214.6,297.5 214.6,280.9 202.6,266.2 202.6,257.0 183.3,240.5 177.8,235.0 159.4,216.6 155.7,205.5 153.9,198.2 155.7,185.3" fill="#ffecec"/>
<polygon points="329.5,358.2 336.0,354.5 343.3,358.2 336.0,361.9" fill="#ffecec"/>
<polygon points="333.2,358.2 336.0,356.3 338.7,358.2 336.0,360.0" fill="#ff8080"/>
<polygon points="332.3,304.8 335.0,303.0 337.8,305.2 335.0,307.1" fill="#ffecec"/>
<polygon points="296.4,320.5 299.2,318.6 301.9,320.8 299.2,322.7" fill="#ffecec"/>
<polygon points="223.8,235.0 226.5,233.1 229.3,235.5 226.5,237.4" fill="#ffecec"/>
<polygon points="159.4,196.4 166.8,189.9 179.7,188.1 190.7,193.6 196.2,200.9 188.8,209.2 183.3,213.8 194.4,219.3 207.2,223.9 218.3,228.5 207.2,232.2 194.4,234.0 185.2,233.1 177.8,231.3 166.8,216.6 157.6,201.9" fill="#ffb8b8"/>
<polygon points="199.9,240.5 205.4,246.0 209.1,257.0 218.3,260.7 233.0,266.2 242.2,273.6 249.5,279.1 256.9,284.6 262.4,293.8 267.9,301.2 275.3,308.5 277.1,315.9 273.4,326.9 279.0,336.1 288.1,343.5 295.5,349.0 304.7,356.3 312.1,361.9 321.2,369.2 330.4,378.4 337.8,385.8 341.5,395.0 339.6,406.0 336.0,411.5 326.8,413.3 319.4,407.8 313.9,400.5 308.4,389.4 301.0,383.9 293.7,382.1 288.1,376.6 286.3,371.0 277.1,372.9 275.3,361.9 264.2,350.8 251.4,343.5 238.5,334.3 238.5,323.2 226.5,312.2 226.5,297.5 214.6,297.5 214.6,280.9 202.6,266.2 202.6,257.0" fill="#ffb8b8"/>
<polygon points="164.9,198.2 174.1,190.8 183.3,192.7 188.8,198.2 183.3,201.9 178.7,205.5 177.8,212.9 175.1,203.7 168.6,200.9" fill="#ff8080"/>
<polygon points="183.3,222.1 188.8,218.4 193.4,223.0 188.8,225.8" fill="#ff8080"/>
<polygon points="196.2,229.5 203.6,227.2 214.6,228.5 205.4,231.3 198.0,231.3" fill="#ff8080"/>
<polygon points="210.9,264.4 218.3,264.4 233.0,269.9 240.3,273.6 247.7,282.8 255.0,288.3 260.6,293.8 266.1,303.0 269.8,312.2 266.1,319.6 262.4,325.1 258.7,321.4 255.0,319.6 247.7,308.5 240.3,301.2 233.0,297.5 225.6,293.8 216.4,286.5 212.8,275.4" fill="#ff8080"/>
<polygon points="251.4,336.1 258.7,336.1 267.9,339.8 275.3,347.1 273.4,352.7 264.2,350.8 256.9,345.3 251.4,343.5" fill="#ff8080"/>
<polygon points="317.6,387.6 324.9,383.9 336.0,393.1 337.8,400.5 330.4,402.3 323.1,398.6" fill="#ff8080"/>
<polygon points="291.8,367.4 299.2,364.6 301.9,367.4 296.4,370.1" fill="#ff8080"/>
<polygon points="218.3,275.4 223.8,271.7 233.0,272.7 240.3,277.3 244.0,282.8 238.5,286.5 229.3,284.6 221.9,280.9" fill="#ff6060"/>
<polygon points="238.5,293.8 247.7,290.1 255.0,293.8 258.7,301.2 256.9,308.5 262.4,312.2 266.1,319.6 260.6,321.4 255.0,315.9 249.5,308.5 244.0,303.0 240.3,299.3" fill="#ff6060"/>
<polygon points="221.9,279.1 229.3,275.4 236.7,279.1 233.0,282.8 225.6,282.8" fill="#ff4040"/>
<polygon points="244.0,295.7 251.4,293.8 255.0,299.3 249.5,303.0" fill="#ff4040"/>
<polygon points="223.8,281.9 229.3,279.1 234.8,281.9 229.3,284.6" fill="#ff2020"/>
<polygon points="245.9,297.5 250.4,294.7 253.2,298.4 249.5,301.2" fill="#ff2020"/>
<polygon points="166.8,197.3 176.0,192.3 187.0,198.2 177.8,202.8" fill="#ff4040"/>
<polygon points="172.3,197.3 176.9,194.9 181.5,197.8 176.9,200.4" fill="#ff0000"/>
<polygon points="230.2,290.1 238.5,286.8 245.5,290.1 238.5,293.8" fill="#ffffff"/>
<polygon points="256.0,328.8 262.4,325.4 270.7,328.0 262.4,332.1" fill="#ffffff"/>
</g>
<use href="#coast"/>
<rect x="0" y="0" width="372" height="488.5" fill="none" stroke="#000" stroke-width="2.2"/>
<path d="M44.0,0v-3.2M44.0,488.5v3.2M92.6,0v-3.2M92.6,488.5v3.2M141.2,0v-3.2M141.2,488.5v3.2M189.7,0v-3.2M189.7,488.5v3.2M238.3,0v-3.2M238.3,488.5v3.2M286.9,0v-3.2M286.9,488.5v3.2M335.5,0v-3.2M335.5,488.5v3.2M0,91.8h-3.2M372,91.8h3.2M0,213.9h-3.2M372,213.9h3.2M0,335.8h-3.2M372,335.8h3.2M0,457.7h-3.2M372,457.7h3.2" stroke="#000" stroke-width="2" fill="none"/>
</g>
<g transform="translate(883.0,540.2)">
<clipPath id="cpf"><rect x="0" y="0" width="372" height="488.5"/></clipPath>
<g clip-path="url(#cpf)">
<polygon points="0.0,3.9 11.0,5.3 27.6,5.3 41.3,12.2 35.8,20.5 40.0,30.1 35.8,38.4 45.5,48.0 60.6,52.2 68.9,52.2 67.5,59.0 55.1,60.4 41.3,63.7 22.0,65.9 0.0,61.8" fill="#ececff"/>
<polygon points="77.2,30.1 85.4,27.4 93.7,29.6 90.9,34.2 79.9,34.2" fill="#ececff"/>
<polygon points="115.7,3.9 370.6,2.6 370.6,140.3 358.2,140.3 338.9,134.8 330.7,123.8 325.2,115.5 300.4,115.5 289.3,121.0 286.6,129.3 272.8,134.8 256.3,132.1 264.5,121.0 268.7,107.3 272.8,96.2 264.5,88.0 256.3,77.0 242.5,65.9 250.8,61.8 239.7,56.3 228.7,50.8 217.7,45.3 203.9,41.1 187.4,39.8 173.6,38.4 165.3,43.9 161.2,37.0 154.3,34.2 137.8,32.9 126.8,30.1 122.6,26.0 125.4,19.1 137.8,16.3 143.3,10.8 129.5,8.1" fill="#ececff"/>
<polygon points="289.3,77.0 297.6,70.1 305.9,77.0 299.0,89.4" fill="#ffffff"/>
<polygon points="338.9,54.9 350.0,52.2 352.7,57.7 344.4,63.2" fill="#ffffff"/>
<polygon points="352.7,6.7 366.5,3.1 370.6,3.1 370.6,15.0 358.2,15.0" fill="#ffffff"/>
<polygon points="209.4,3.1 217.7,3.1 216.3,10.8 210.8,9.4" fill="#ffffff"/>
<polygon points="151.6,9.4 165.3,3.9 344.4,2.6 347.2,10.8 330.7,21.8 311.4,27.4 303.1,38.4 281.1,43.9 271.4,52.2 292.1,53.5 314.1,48.0 322.4,35.6 338.9,27.4 370.6,27.4 370.6,48.0 355.5,49.4 341.7,45.3 330.7,41.1 322.4,43.9 316.9,52.2 303.1,54.9 272.8,56.3 261.8,52.2 253.5,41.1 242.5,32.9 226.0,31.5 209.4,27.4 192.9,24.6 179.1,21.8 165.3,20.5 154.3,16.3" fill="#b8d8ff"/>
<polygon points="327.9,85.2 338.9,78.3 355.5,70.1 370.6,67.3 370.6,82.5 358.2,85.2 347.2,90.7 330.7,90.7" fill="#b8d8ff"/>
<polygon points="305.9,68.7 316.9,57.7 325.2,54.9 326.5,63.2 314.1,72.8" fill="#b8d8ff"/>
<polygon points="278.3,85.2 286.6,82.5 294.8,96.2 288.0,105.9 282.4,99.0" fill="#b8d8ff"/>
<polygon points="350.0,110.0 358.2,97.6 370.6,96.2 370.6,129.3 358.2,129.3 351.3,121.0" fill="#b8d8ff"/>
<polygon points="2.8,43.9 16.5,41.1 30.3,45.3 33.1,54.9 41.3,61.8 27.6,64.6 11.0,61.8 2.8,56.3" fill="#b8d8ff"/>
<polygon points="11.0,21.8 22.0,18.5 34.4,20.5 35.8,26.0 22.0,27.4 12.4,25.2" fill="#b8d8ff"/>
<polygon points="165.3,9.4 176.4,5.3 190.1,8.1 191.5,15.0 181.9,19.1 170.8,16.3" fill="#80c0ff"/>
<polygon points="226.0,16.3 237.0,15.0 242.5,23.2 234.2,26.0 227.3,21.8" fill="#80c0ff"/>
<polygon points="253.5,8.1 264.5,3.9 278.3,3.9 281.1,9.4 270.0,13.6 259.0,12.2" fill="#80c0ff"/>
<polygon points="314.1,3.9 336.2,3.1 333.4,6.7 319.6,6.7" fill="#80c0ff"/>
<polygon points="366.5,118.3 370.6,115.5 370.6,129.3 366.5,127.9" fill="#80c0ff"/>
<polygon points="129.5,46.6 137.8,48.0 143.3,54.9 140.5,63.2 135.0,68.7 143.3,77.0 154.3,82.5 168.1,90.7 179.1,99.0 190.1,110.0 201.2,121.0 209.4,129.3 198.4,134.8 187.4,140.3 176.4,148.6 170.8,154.1 176.4,165.1 181.9,176.2 187.4,181.7 198.4,184.4 206.7,192.7 165.3,192.7 154.3,192.7 148.8,167.9 132.3,132.1 140.5,121.0 124.0,99.0 132.3,65.9 129.5,54.9" fill="#ececff"/>
<polygon points="151.0,67.3 159.8,59.0 170.8,53.5 180.5,53.5 184.1,63.2 179.1,70.1 165.3,77.0 154.3,74.2" fill="#ffecec"/>
<polygon points="154.3,67.3 165.3,59.0 177.7,57.7 180.5,64.6 170.8,67.3 159.8,70.1" fill="#ffb8b8"/>
<polygon points="152.9,82.5 157.1,81.1 157.1,85.2 153.5,85.2" fill="#ffecec"/>
<polygon points="163.1,89.4 166.7,88.0 168.1,90.7 164.0,91.3" fill="#ffecec"/>
<polygon points="117.1,93.5 129.5,82.5 137.8,79.7 146.0,85.2 150.2,93.5 143.3,101.8 132.3,107.3 126.8,101.8 117.1,99.0" fill="#b8d8ff"/>
<polygon points="124.0,92.1 132.3,83.8 140.5,82.5 144.7,90.7 135.0,97.6 126.8,97.6" fill="#60b0ff"/>
<polygon points="129.5,90.7 136.4,86.6 140.5,90.7 135.0,94.9" fill="#2090ff"/>
<polygon points="152.9,103.1 162.6,94.9 172.2,97.6 176.4,104.5 170.8,110.0 162.6,112.8 155.7,108.6" fill="#b8d8ff"/>
<polygon points="157.1,103.1 165.3,97.6 172.2,101.8 168.1,108.6 161.2,108.6" fill="#40a0ff"/>
<polygon points="161.2,103.1 166.7,100.4 170.8,104.0 166.2,107.3" fill="#0a80ff"/>
<polygon points="150.2,113.6 154.3,111.4 158.4,113.6 154.3,115.5" fill="#ffb8b8"/>
<polygon points="172.2,122.4 176.4,118.3 181.9,122.4 177.2,126.6" fill="#ffecec"/>
<polygon points="161.2,136.8 166.7,132.1 172.2,136.8 166.7,141.7" fill="#ff8080"/>
<polygon points="164.0,136.8 166.7,134.3 169.5,136.8 166.7,139.2" fill="#ff2020"/>
<polygon points="188.8,129.3 191.5,126.6 192.9,136.2 189.6,137.6" fill="#b8d8ff"/>
<polygon points="129.5,112.8 137.8,108.6 146.0,118.3 154.3,123.8 159.8,132.1 165.3,143.1 175.0,150.0 176.4,156.9 170.8,165.1 162.6,170.6 150.2,170.6 141.9,165.1 137.8,154.1 132.3,143.1 129.5,137.6" fill="#b8d8ff"/>
<polygon points="132.3,115.5 140.5,112.8 148.8,123.8 157.1,134.8 165.3,145.8 172.2,154.1 165.3,162.4 154.3,165.1 146.0,162.4 140.5,154.1 135.0,143.1 130.9,132.1" fill="#60b0ff"/>
<polygon points="135.0,126.6 143.3,123.8 151.6,134.8 159.8,143.1 168.1,151.4 162.6,159.6 152.9,159.6 146.0,154.1 140.5,145.8 136.4,137.6" fill="#2090ff"/>
<polygon points="140.5,132.1 146.0,130.7 154.3,140.3 162.6,148.6 157.1,155.5 150.2,152.7 143.3,143.1" fill="#0a80ff"/>
<polygon points="175.0,165.1 178.6,159.6 181.9,167.9 179.1,176.2 175.8,172.0" fill="#ffecec"/>
<polygon points="173.6,182.2 177.7,178.9 181.9,182.2 177.7,185.8" fill="#ff8080"/>
<polygon points="212.2,173.4 226.0,165.1 239.7,158.2 261.8,155.5 275.6,151.4 272.8,156.9 256.3,165.1 239.7,170.6 231.5,174.8 214.9,176.2" fill="#ececff"/>
<polygon points="325.2,212.0 333.4,205.1 336.2,202.3 348.6,209.2 347.2,216.1 336.2,217.5 327.9,216.1" fill="#ececff"/>
<polygon points="332.0,159.6 337.6,158.2 341.7,160.2 336.2,161.3" fill="#ffecec"/>
<polygon points="155.4,179.8 184.8,183.5 199.5,185.3 210.6,190.8 206.9,198.2 210.6,205.5 212.4,216.6 223.4,225.8 232.6,229.5 236.3,238.6 252.9,240.5 265.7,249.7 269.4,257.0 262.0,268.1 274.9,275.4 282.3,286.5 280.4,293.8 273.1,297.5 284.1,306.7 295.1,312.2 302.5,319.6 313.5,328.8 302.5,332.4 295.1,339.8 302.5,347.1 313.5,356.3 319.1,363.7 326.4,372.9 333.8,378.4 343.0,387.6 346.6,400.5 343.0,411.5 339.3,417.0 330.1,420.7 319.1,418.9 311.7,415.2 308.0,418.9 300.7,418.9 298.8,409.7 287.8,396.8 287.8,383.9 276.8,372.9 274.9,360.0 263.9,350.8 251.0,343.5 240.0,336.1 238.1,326.9 227.1,312.2 227.1,306.7 215.2,297.5 214.2,282.8 203.2,268.1 202.3,257.0 177.5,235.0 173.8,227.6 155.4,205.5 153.6,198.2 151.7,183.5" fill="#ececff"/>
<polygon points="324.6,213.8 335.6,202.8 348.5,209.2 347.6,214.7 337.4,218.4" fill="#ececff"/>
<polygon points="328.2,304.8 331.9,298.4 337.4,299.3 339.3,306.7 333.8,308.5" fill="#ececff"/>
<polygon points="331.9,337.9 337.4,332.4 348.5,337.9 350.3,343.5 341.1,345.3" fill="#ececff"/>
<polygon points="311.7,431.7 320.9,433.6 331.9,429.9 341.1,433.6 354.0,442.8 348.5,446.4 343.0,448.3 324.6,440.9 313.5,435.4" fill="#ececff"/>
<polygon points="157.2,185.3 164.6,182.6 181.1,187.2 192.2,190.8 199.5,200.0 205.0,211.1 206.9,220.3 217.9,227.6 225.3,233.1 232.6,236.8 241.8,240.5 251.0,242.3 254.7,249.7 260.2,257.0 258.4,264.4 254.7,271.7 265.7,275.4 273.1,284.6 278.6,290.1 269.4,295.7 273.1,301.2 284.1,308.5 287.8,315.9 295.1,319.6 302.5,326.9 297.0,332.4 291.5,339.8 298.8,345.3 306.2,350.8 313.5,358.2 319.1,363.7 326.4,371.0 335.6,378.4 341.1,387.6 343.0,400.5 339.3,411.5 331.9,417.0 320.9,417.0 313.5,413.3 309.9,404.1 306.2,396.8 295.1,389.4 287.8,383.9 276.8,372.9 274.9,360.0 263.9,350.8 251.0,343.5 240.0,336.1 238.1,326.9 227.1,312.2 227.1,306.7 215.2,297.5 214.2,282.8 203.2,268.1 202.3,257.0 177.5,235.0 173.8,227.6 155.4,205.5 153.6,198.2" fill="#b8d8ff"/>
<polygon points="159.1,190.8 168.3,187.2 179.3,190.8 190.3,194.5 197.7,201.9 199.5,211.1 201.4,218.4 210.6,227.6 217.9,235.0 225.3,240.5 232.6,246.0 240.0,249.7 247.3,253.4 249.2,262.6 243.7,268.1 249.2,273.6 262.0,279.1 269.4,288.3 265.7,293.8 269.4,301.2 276.8,308.5 282.3,315.9 284.1,325.1 286.0,330.6 284.1,336.1 295.1,341.6 302.5,349.0 309.9,356.3 317.2,363.7 322.7,371.0 331.9,378.4 339.3,387.6 341.1,398.6 337.4,409.7 330.1,415.2 320.9,415.2 313.5,407.8 309.9,398.6 306.2,393.1 297.0,387.6 287.8,383.9 276.8,372.9 274.9,360.0 263.9,350.8 251.0,343.5 240.0,336.1 238.1,326.9 227.1,312.2 227.1,306.7 215.2,297.5 214.2,282.8 203.2,268.1 202.3,257.0 177.5,235.0 173.8,227.6 155.4,205.5 153.6,198.2" fill="#80c0ff"/>
<polygon points="160.9,194.5 170.1,190.8 183.0,194.5 194.0,200.0 195.8,209.2 192.2,214.7 199.5,220.3 206.9,227.6 214.2,235.0 221.6,242.3 230.8,249.7 240.0,253.4 247.3,258.9 243.7,266.2 243.7,273.6 254.7,279.1 265.7,288.3 263.9,292.0 265.7,299.3 271.2,308.5 276.8,317.7 276.8,326.9 280.4,332.4 291.5,341.6 298.8,350.8 306.2,358.2 313.5,363.7 320.9,372.9 330.1,380.2 337.4,389.4 339.3,398.6 335.6,407.8 328.2,413.3 320.9,411.5 315.4,404.1 311.7,396.8 302.5,393.1 295.1,387.6 287.8,383.9 276.8,372.9 274.9,360.0 263.9,350.8 251.0,343.5 240.0,336.1 238.1,326.9 227.1,312.2 227.1,306.7 215.2,297.5 214.2,282.8 203.2,268.1 202.3,257.0 177.5,235.0 173.8,227.6 155.4,205.5" fill="#60b0ff"/>
<polygon points="164.6,198.2 175.6,194.5 186.7,200.0 190.3,207.4 186.7,212.9 181.1,214.7 177.5,216.6 188.5,220.3 197.7,225.8 206.9,233.1 214.2,240.5 221.6,249.7 232.6,257.0 240.0,262.6 240.0,271.7 251.0,279.1 258.4,286.5 258.4,293.8 263.9,301.2 269.4,312.2 271.2,321.4 273.1,328.8 284.1,337.9 291.5,347.1 298.8,354.5 306.2,361.9 313.5,369.2 320.9,378.4 330.1,385.8 337.4,393.1 335.6,404.1 328.2,411.5 320.9,407.8 317.2,400.5 313.5,395.0 308.0,385.8 298.8,378.4 287.8,374.7 276.8,372.9 274.9,360.0 263.9,350.8 251.0,343.5 240.0,336.1 238.1,326.9 227.1,312.2 227.1,306.7 215.2,297.5 214.2,282.8 203.2,268.1 202.3,257.0 177.5,235.0 173.8,227.6 164.6,216.6 157.2,205.5" fill="#40a0ff"/>
<polygon points="214.2,260.7 223.4,260.7 234.5,268.1 241.8,273.6 251.0,279.1 256.5,288.3 260.2,297.5 265.7,308.5 267.6,319.6 271.2,328.8 278.6,336.1 284.1,345.3 280.4,350.8 273.1,349.0 263.9,350.8 251.0,343.5 240.0,336.1 238.1,326.9 227.1,312.2 227.1,306.7 215.2,297.5 214.2,282.8" fill="#2090ff"/>
<polygon points="319.1,382.1 326.4,382.1 335.6,391.3 337.4,400.5 331.9,407.8 322.7,406.0 317.2,396.8" fill="#2090ff"/>
<polygon points="320.9,434.5 333.8,429.9 343.0,436.3 333.8,440.9" fill="#40a0ff"/>
<polygon points="326.4,435.4 333.8,431.4 340.2,435.4 333.8,438.7" fill="#2090ff"/>
<polygon points="328.2,358.2 335.6,353.6 343.0,358.2 335.6,362.8" fill="#2090ff"/>
<polygon points="183.0,220.3 190.3,216.6 199.5,223.9 208.7,229.5 205.0,233.1 195.8,233.1 188.5,231.3" fill="#2090ff"/>
<polygon points="216.1,273.6 227.1,274.5 241.8,280.9 252.9,290.1 262.0,299.3 269.4,310.4 269.4,319.6 263.9,326.9 254.7,330.6 247.3,330.6 240.0,326.9 238.1,323.2 227.1,312.2 227.1,306.7 215.2,297.5 214.2,282.8" fill="#0a80ff"/>
<polygon points="166.4,199.1 175.6,196.4 183.0,200.0 175.6,202.8" fill="#0a80ff"/>
<polygon points="184.8,221.2 192.2,218.4 201.4,224.9 197.7,229.5 190.3,227.6" fill="#0a80ff"/>
<polygon points="174.7,182.6 177.8,180.7 181.1,182.6 177.8,184.9" fill="#ff8080"/>
<polygon points="359.5,342.5 367.8,341.6 367.8,345.3 359.5,345.3" fill="#ffecec"/>
</g>
<use href="#coast"/>
<rect x="0" y="0" width="372" height="488.5" fill="none" stroke="#000" stroke-width="2.2"/>
<path d="M44.0,0v-3.2M44.0,488.5v3.2M92.6,0v-3.2M92.6,488.5v3.2M141.2,0v-3.2M141.2,488.5v3.2M189.7,0v-3.2M189.7,488.5v3.2M238.3,0v-3.2M238.3,488.5v3.2M286.9,0v-3.2M286.9,488.5v3.2M335.5,0v-3.2M335.5,488.5v3.2M0,91.8h-3.2M372,91.8h3.2M0,213.9h-3.2M372,213.9h3.2M0,335.8h-3.2M372,335.8h3.2M0,457.7h-3.2M372,457.7h3.2" stroke="#000" stroke-width="2" fill="none"/>
</g>
<g transform="translate(97.0,1045.6)">
<clipPath id="cpg"><rect x="0" y="0" width="372" height="488.5"/></clipPath>
<g clip-path="url(#cpg)">
<polygon points="0.0,4.9 11.0,2.2 118.5,2.2 118.5,7.7 104.7,11.8 90.9,15.9 85.4,24.2 90.9,32.5 88.2,40.7 96.4,46.2 96.4,51.8 82.7,55.9 68.9,58.6 55.1,62.8 41.3,65.5 22.0,65.5 0.0,61.4" fill="#ececff"/>
<polygon points="0.0,4.9 11.0,2.2 66.1,2.2 55.1,10.4 49.6,21.4 44.1,29.7 38.6,38.0 46.8,46.2 49.6,57.3 41.3,61.4 22.0,62.8 0.0,58.6" fill="#b8d8ff"/>
<polygon points="26.2,31.1 35.8,28.3 40.0,33.8 30.3,35.2" fill="#ececff"/>
<polygon points="16.5,53.1 27.6,46.2 35.8,49.0 33.1,55.9 19.3,57.3" fill="#ececff"/>
<polygon points="183.2,3.5 198.4,2.2 192.9,10.4 192.9,21.4 187.4,22.8 184.6,13.2" fill="#ececff"/>
<polygon points="121.2,29.7 129.5,24.2 143.3,18.7 154.3,15.9 168.1,14.6 165.3,21.4 154.3,27.0 143.3,32.5 137.8,43.5 151.6,51.8 154.3,62.8 165.3,71.0 181.9,73.8 192.9,75.2 209.4,82.1 198.4,84.8 187.4,90.3 192.9,104.1 206.7,106.9 214.9,109.6 220.4,117.9 228.7,120.6 237.0,128.9 231.5,137.2 231.5,148.2 228.7,159.2 231.5,167.5 220.4,175.8 209.4,181.3 203.9,192.3 220.4,208.8 231.5,217.1 242.5,228.1 248.0,236.4 259.0,244.4 176.4,244.4 154.3,203.3 151.6,170.2 140.5,156.5 132.3,131.7 140.5,120.6 124.0,98.6 132.3,65.5 121.2,54.5 118.5,35.2" fill="#ececff"/>
<polygon points="158.4,32.5 165.3,29.7 170.8,32.5 165.3,35.2" fill="#ececff"/>
<polygon points="259.0,144.1 267.3,142.7 275.6,144.1 267.3,146.0" fill="#ececff"/>
<polygon points="245.2,166.1 252.1,164.7 259.0,166.9 252.1,168.0" fill="#ececff"/>
<polygon points="274.2,204.7 283.8,197.3 288.0,198.4 278.3,206.1" fill="#ececff"/>
<polygon points="333.4,190.9 335.6,189.5 337.8,191.5 335.6,192.8" fill="#ececff"/>
<polygon points="118.5,93.1 129.5,87.6 137.8,82.1 148.8,84.8 137.8,93.1 129.5,98.6 118.5,98.6" fill="#b8d8ff"/>
<polygon points="173.6,99.2 177.7,97.2 180.5,101.4 176.4,102.7" fill="#b8d8ff"/>
<polygon points="155.7,128.9 159.8,117.9 168.1,111.0 179.1,112.4 187.4,120.6 192.9,126.2 209.4,122.0 220.4,124.8 228.7,128.9 220.4,131.7 203.9,133.0 192.9,134.4 198.4,139.9 206.7,144.1 203.9,152.3 192.9,148.2 187.4,151.0 176.4,156.5 165.3,153.7 157.1,148.2" fill="#b8d8ff"/>
<polygon points="158.4,128.9 162.6,117.9 170.8,113.8 181.9,117.9 187.4,128.9 184.6,142.7 176.4,151.0 165.3,151.0 158.4,142.7" fill="#80c0ff"/>
<polygon points="161.2,131.7 165.3,120.6 173.6,116.5 181.9,123.4 183.2,134.4 179.1,142.7 170.8,148.2 162.6,145.4" fill="#60b0ff"/>
<polygon points="165.3,134.4 170.8,123.4 177.7,122.0 181.9,128.9 179.1,139.9 170.8,145.4 165.3,142.7" fill="#40a0ff"/>
<polygon points="168.1,134.4 173.6,126.2 180.5,128.9 177.7,138.6 170.8,141.3" fill="#2090ff"/>
<polygon points="170.8,133.0 176.4,127.5 180.5,131.7 175.0,137.2" fill="#0a80ff"/>
<polygon points="143.3,151.0 154.3,148.2 159.8,156.5 148.8,159.2 143.3,159.2" fill="#b8d8ff"/>
<polygon points="154.3,164.7 165.3,163.4 172.2,166.1 168.1,181.3 162.6,192.3 157.1,189.5 154.3,175.8" fill="#b8d8ff"/>
<polygon points="154.3,203.3 165.3,197.8 179.1,197.8 192.9,195.0 195.6,208.8 206.7,219.8 209.4,230.9 223.2,236.4 228.7,244.4 176.4,244.4" fill="#b8d8ff"/>
<polygon points="170.8,208.8 187.4,203.3 192.9,214.3 198.4,225.4 192.9,236.4 181.9,233.6 173.6,219.8" fill="#80c0ff"/>
<polygon points="184.6,217.1 190.1,214.3 195.6,222.6 190.1,228.1 184.6,225.4" fill="#40a0ff"/>
<polygon points="187.4,218.5 190.1,217.1 192.9,221.2 190.1,224.0" fill="#2090ff"/>
<polygon points="156.9,184.4 204.7,184.4 208.4,191.8 206.6,199.1 201.0,208.3 206.6,215.7 225.0,212.0 236.0,215.7 247.0,221.2 248.9,228.5 243.3,235.9 250.7,239.6 261.7,239.6 269.1,243.3 261.7,250.6 254.4,258.0 265.4,259.8 276.4,261.6 280.1,267.2 276.4,270.8 270.9,274.5 265.4,278.2 269.1,283.7 276.4,294.7 283.8,298.4 291.2,305.8 291.2,313.1 287.5,316.8 283.8,324.2 282.0,331.5 285.6,340.7 280.1,346.2 276.4,349.9 280.1,355.4 289.3,353.6 298.5,349.9 307.7,346.2 315.1,349.9 313.2,355.4 307.7,359.1 309.6,364.6 320.6,368.3 327.9,375.7 335.3,383.0 335.3,388.5 327.9,392.2 315.1,394.1 305.9,390.4 294.8,386.7 293.0,390.4 278.3,361.0 250.7,337.0 236.0,322.3 213.9,274.5 210.2,259.8 177.1,230.4 156.0,201.0 153.2,184.4" fill="#ececff"/>
<polygon points="274.6,202.8 285.6,197.3 287.5,200.0 276.4,205.5" fill="#ececff"/>
<polygon points="332.5,190.8 335.3,189.9 338.1,191.4 335.3,192.7" fill="#ececff"/>
<polygon points="331.6,403.3 336.2,401.4 340.8,404.2 336.2,406.0" fill="#ececff"/>
<polygon points="324.3,419.8 331.6,418.9 337.1,419.8 331.6,420.7" fill="#ececff"/>
<polygon points="156.9,184.4 166.1,184.4 166.1,195.4 179.0,199.1 188.2,195.4 195.5,199.1 197.4,210.1 199.2,219.3 210.2,221.2 221.3,223.0 225.0,228.5 226.8,237.7 230.5,245.1 232.3,250.6 228.6,258.0 225.0,261.6 230.5,267.2 236.0,270.8 243.3,272.7 252.5,276.4 261.7,278.2 265.4,281.9 261.7,287.4 254.4,292.9 250.7,298.4 258.1,302.1 265.4,305.8 269.1,309.5 272.8,313.1 274.6,320.5 272.8,327.8 269.1,333.4 265.4,337.0 258.1,338.9 250.7,337.0 243.3,331.5 236.0,322.3 213.9,274.5 210.2,259.8 177.1,230.4 156.0,201.0" fill="#b8d8ff"/>
<polygon points="250.7,259.8 261.7,258.0 280.1,265.3 276.4,269.0 261.7,265.3" fill="#b8d8ff"/>
<polygon points="280.1,359.1 289.3,357.3 304.0,364.6 300.4,368.3 291.2,366.5" fill="#b8d8ff"/>
<polygon points="309.6,382.1 316.9,383.0 326.1,387.6 316.9,388.5" fill="#b8d8ff"/>
<polygon points="307.7,350.8 310.5,349.0 314.1,350.8 310.5,353.2" fill="#80c0ff"/>
<polygon points="156.9,195.4 169.8,193.6 184.5,195.4 191.9,199.1 195.5,210.1 197.4,221.2 206.6,224.9 217.6,228.5 225.0,234.1 228.6,243.3 230.5,252.4 225.0,259.8 213.9,258.0 202.9,248.8 188.2,239.6 177.1,230.4 162.4,210.1" fill="#80c0ff"/>
<polygon points="217.6,270.8 228.6,269.0 243.3,274.5 252.5,278.2 261.7,280.0 263.6,283.7 258.1,287.4 252.5,291.1 250.7,296.6 254.4,302.1 261.7,305.8 269.1,309.5 270.9,316.8 269.1,324.2 265.4,331.5 261.7,333.4 256.2,329.7 250.7,327.8 245.2,324.2 241.5,318.7 236.0,313.1 228.6,298.4 223.1,287.4 219.4,280.0" fill="#80c0ff"/>
<polygon points="166.1,206.5 175.3,202.8 186.3,204.6 193.7,212.0 195.5,221.2 199.2,226.7 195.5,232.2 188.2,234.1 180.8,230.4 173.5,221.2 167.9,213.8" fill="#60b0ff"/>
<polygon points="219.4,274.5 226.8,270.8 237.8,274.5 243.3,280.0 247.0,283.7 241.5,289.2 236.0,291.1 228.6,289.2 223.1,283.7" fill="#60b0ff"/>
<polygon points="208.4,248.8 213.9,246.9 219.4,250.6 215.8,254.3 210.2,253.4" fill="#60b0ff"/>
<polygon points="250.7,309.5 259.9,305.8 267.3,311.3 263.6,316.8 256.2,316.8 252.5,313.1" fill="#60b0ff"/>
<polygon points="247.0,327.8 252.5,324.2 256.2,327.8 252.5,331.5 248.9,330.6" fill="#60b0ff"/>
<polygon points="180.8,217.5 188.2,213.8 195.5,221.2 191.9,226.7 186.3,228.5 182.7,223.0" fill="#40a0ff"/>
<polygon points="221.3,278.2 228.6,274.5 236.0,278.2 234.1,285.5 226.8,287.4 223.1,283.7" fill="#40a0ff"/>
<polygon points="256.2,243.3 261.7,239.6 270.9,244.2 261.7,247.8" fill="#40a0ff"/>
<polygon points="258.1,311.3 261.7,309.5 265.4,312.2 261.7,315.0" fill="#40a0ff"/>
<polygon points="186.3,221.2 190.0,218.4 193.7,222.1 190.0,224.9" fill="#2090ff"/>
<polygon points="225.0,280.0 228.6,277.3 232.3,281.0 228.6,283.7" fill="#2090ff"/>
<polygon points="234.1,291.1 237.8,287.4 241.5,291.1 238.7,296.6 235.1,294.7" fill="#ffecec"/>
<polygon points="236.4,290.1 238.2,288.9 239.7,290.7 237.8,292.9" fill="#ff8080"/>
<polygon points="329.8,358.2 335.3,355.4 341.7,358.2 335.3,361.0" fill="#ffecec"/>
<polygon points="333.1,358.2 335.3,356.9 338.1,358.2 335.3,359.5" fill="#ffb8b8"/>
</g>
<use href="#coast"/>
<rect x="0" y="0" width="372" height="488.5" fill="none" stroke="#000" stroke-width="2.2"/>
<path d="M44.0,0v-3.2M44.0,488.5v3.2M92.6,0v-3.2M92.6,488.5v3.2M141.2,0v-3.2M141.2,488.5v3.2M189.7,0v-3.2M189.7,488.5v3.2M238.3,0v-3.2M238.3,488.5v3.2M286.9,0v-3.2M286.9,488.5v3.2M335.5,0v-3.2M335.5,488.5v3.2M0,91.8h-3.2M372,91.8h3.2M0,213.9h-3.2M372,213.9h3.2M0,335.8h-3.2M372,335.8h3.2M0,457.7h-3.2M372,457.7h3.2" stroke="#000" stroke-width="2" fill="none"/>
</g>
<g transform="translate(490.0,1045.6)">
<clipPath id="cph"><rect x="0" y="0" width="372" height="488.5"/></clipPath>
<g clip-path="url(#cph)">
<polygon points="0.0,3.5 68.9,2.2 66.1,7.7 57.9,24.2 66.1,35.2 63.4,43.5 57.9,57.3 55.1,62.8 41.3,65.5 22.0,65.5 0.0,61.4" fill="#ffecec"/>
<polygon points="27.6,44.9 34.4,43.5 35.8,53.1 30.3,53.1" fill="#ffffff"/>
<polygon points="3.3,44.9 11.0,42.1 12.4,46.8 4.1,47.6" fill="#ffffff"/>
<polygon points="74.4,2.2 259.0,2.2 248.0,6.3 234.2,9.0 220.4,15.9 214.9,27.0 198.4,27.0 192.9,24.2 179.1,27.0 165.3,32.5 154.3,25.6 143.3,29.7 141.9,38.0 146.0,49.0 143.3,54.5 129.5,53.1 126.8,43.5 129.5,38.0 121.2,29.7 121.2,21.4 110.2,20.1 96.4,15.9 82.7,13.2 71.6,10.4" fill="#ffecec"/>
<polygon points="197.0,7.7 202.5,4.9 206.7,7.7 202.5,10.4" fill="#ffffff"/>
<polygon points="168.1,36.6 176.4,31.1 184.6,38.0 177.7,42.1" fill="#ffecec"/>
<polygon points="205.3,36.6 212.2,31.1 217.7,38.0 212.2,40.2" fill="#ffecec"/>
<polygon points="325.2,43.5 330.7,38.0 347.2,32.5 358.2,27.0 363.7,31.1 355.5,35.2 350.0,40.7 355.5,46.2 347.2,50.4 333.4,47.6" fill="#ffecec"/>
<polygon points="129.5,79.3 137.8,68.3 151.6,61.4 159.8,65.5 168.1,73.8 170.8,82.1 170.8,90.3 179.1,97.2 176.4,101.4 165.3,105.5 154.3,108.2 151.6,102.7 143.3,95.8 132.3,98.6 124.0,98.6 125.4,87.6" fill="#ffecec"/>
<polygon points="135.0,82.1 141.9,78.8 148.8,82.1 141.9,85.4" fill="#ffb8b8"/>
<polygon points="143.3,120.6 154.3,113.8 170.8,112.4 181.9,117.9 187.4,128.9 190.1,142.7 195.6,148.2 192.9,162.0 190.1,173.0 195.6,181.3 198.4,195.0 192.9,203.3 198.4,211.6 214.9,219.8 226.0,228.1 228.7,236.4 237.0,244.4 192.9,244.4 176.4,228.1 157.1,200.6 152.9,175.8 143.3,164.7 140.5,153.7 135.0,137.2 132.3,131.7 140.5,123.4" fill="#ffecec"/>
<polygon points="144.7,123.4 154.3,115.1 170.8,116.5 179.1,123.4 181.9,134.4 181.9,148.2 179.1,156.5 179.1,170.2 176.4,181.3 181.9,192.3 181.9,206.1 192.9,211.6 203.9,219.8 212.2,228.1 209.4,236.4 203.9,244.4 192.9,244.4 176.4,228.1 157.1,200.6 152.9,175.8 148.8,164.7 143.3,153.7 140.5,137.2" fill="#ffb8b8"/>
<polygon points="148.8,123.4 157.1,117.9 170.8,120.6 176.4,128.9 176.4,139.9 170.8,148.2 165.3,153.7 159.8,145.4 154.3,137.2 150.2,128.9" fill="#ff8080"/>
<polygon points="157.1,192.3 165.3,189.5 173.6,197.8 179.1,206.1 170.8,208.8 162.6,203.3" fill="#ff8080"/>
<polygon points="154.3,124.8 162.6,120.6 170.8,126.2 172.2,137.2 166.7,145.4 159.8,139.9 155.7,131.7" fill="#ff6060"/>
<polygon points="162.6,137.2 165.3,134.4 168.1,139.9 165.3,145.4" fill="#ff4040"/>
<polygon points="181.9,197.3 190.1,196.4 190.7,198.9 182.4,199.2" fill="#ffecec"/>
<polygon points="157.6,184.4 194.4,184.4 198.0,197.3 187.0,201.0 185.2,208.3 199.9,213.8 212.8,219.3 225.6,226.7 229.3,235.9 236.7,241.4 240.3,250.6 247.7,259.8 240.3,265.3 251.4,270.8 262.4,276.3 271.6,283.7 258.7,291.1 262.4,298.4 280.8,302.1 288.1,305.8 275.3,309.4 280.8,324.2 288.1,331.5 293.7,337.0 288.1,344.4 306.5,346.2 313.9,349.9 315.7,355.4 324.9,368.3 330.4,379.3 339.6,386.7 343.3,397.7 339.6,406.9 341.5,416.1 343.3,427.1 334.1,430.8 321.2,429.0 312.1,427.1 299.2,416.1 295.5,408.7 288.1,395.9 286.3,383.0 275.3,372.0 275.3,360.9 262.4,349.9 251.4,342.5 238.5,335.2 238.5,327.8 225.6,311.3 225.6,305.8 214.6,296.6 213.7,283.7 203.6,267.2 202.6,258.0 177.8,234.1 155.7,204.6 153.0,191.8" fill="#ffecec"/>
<polygon points="255.0,244.2 262.4,239.6 269.8,244.2 262.4,247.8" fill="#ffecec"/>
<polygon points="258.7,244.2 262.4,242.0 266.1,244.2 262.4,246.2" fill="#ffb8b8"/>
<polygon points="157.6,188.1 166.8,189.9 176.0,199.1 181.5,206.5 185.2,212.0 183.3,215.7 192.5,219.3 203.6,221.2 210.9,226.7 216.4,235.9 225.6,243.2 229.3,254.3 233.0,263.5 240.3,269.0 247.7,276.3 258.7,281.9 266.1,287.4 269.8,294.7 266.1,302.1 269.8,309.4 273.4,316.8 275.3,324.2 280.8,331.5 280.8,338.9 288.1,344.4 299.2,348.1 308.4,348.1 313.9,351.7 306.5,355.4 310.2,362.8 306.5,370.1 304.7,377.5 302.9,383.0 299.2,386.7 295.5,390.4 288.1,395.9 286.3,383.0 275.3,372.0 275.3,360.9 262.4,349.9 251.4,342.5 238.5,335.2 238.5,327.8 225.6,311.3 225.6,305.8 214.6,296.6 213.7,283.7 203.6,267.2 202.6,258.0 177.8,234.1 155.7,204.6" fill="#ffb8b8"/>
<polygon points="233.0,265.3 244.0,261.6 251.4,265.3 247.7,272.7 240.3,274.5 234.8,270.8" fill="#ffe8e8"/>
<polygon points="306.5,388.5 313.9,385.8 324.9,385.8 327.7,390.4 321.2,395.9 310.2,394.0" fill="#ffb8b8"/>
<polygon points="312.1,403.2 321.2,397.7 324.9,405.1 334.1,412.4 328.6,416.1 321.2,417.0 313.9,412.4" fill="#ffb8b8"/>
<polygon points="244.0,283.7 255.0,278.2 266.1,281.9 262.4,287.4 251.4,289.2" fill="#ffb8b8"/>
<polygon points="159.4,191.8 166.8,191.8 172.3,199.1 179.7,204.6 181.5,208.3 174.1,208.3 166.8,206.5 161.3,201.0" fill="#ff8080"/>
<polygon points="183.3,219.3 190.7,215.7 199.9,221.2 205.4,228.5 209.1,235.9 203.6,239.6 196.2,237.7 188.8,234.1 183.3,226.7" fill="#ff8080"/>
<polygon points="220.1,270.8 225.6,267.2 233.0,272.7 236.7,280.0 231.1,285.5 225.6,281.9 221.9,276.3" fill="#ff8080"/>
<polygon points="231.1,292.9 240.3,291.1 247.7,294.7 251.4,302.1 244.0,309.4 236.7,309.4" fill="#ff8080"/>
<polygon points="244.0,309.4 255.0,305.8 266.1,309.4 267.9,313.1 262.4,316.8 253.2,315.0 245.9,313.1" fill="#ff8080"/>
<polygon points="247.7,327.8 258.7,324.2 267.9,326.0 266.1,329.7 256.9,331.5 249.5,331.5" fill="#ff8080"/>
<polygon points="319.4,410.6 324.0,408.7 326.8,412.4 323.1,414.3" fill="#ff8080"/>
<polygon points="211.8,252.4 214.6,249.7 217.3,252.4 214.6,255.2" fill="#ff8080"/>
<polygon points="187.0,221.2 192.5,219.3 198.0,224.9 194.4,228.5 188.8,226.7" fill="#ff6060"/>
<polygon points="221.9,272.7 225.6,270.8 230.2,274.5 227.5,278.2" fill="#ff6060"/>
<polygon points="234.8,296.6 240.3,294.7 244.0,298.4 240.3,302.1" fill="#ff6060"/>
<polygon points="192.5,239.6 199.9,237.7 209.1,241.4 207.2,246.0 201.7,247.8 196.2,245.1" fill="#ff6060"/>
<polygon points="196.2,241.4 201.7,239.6 207.2,242.9 202.6,246.0 198.0,245.1" fill="#ff0000"/>
<polygon points="258.7,296.9 263.3,294.4 267.9,296.9 263.3,299.7" fill="#b8d8ff"/>
<polygon points="260.9,296.9 263.3,295.7 265.7,296.9 263.3,298.4" fill="#40a0ff"/>
<polygon points="341.5,373.4 347.9,370.1 354.3,373.4 347.9,376.6" fill="#b8d8ff"/>
</g>
<use href="#coast"/>
<rect x="0" y="0" width="372" height="488.5" fill="none" stroke="#000" stroke-width="2.2"/>
<path d="M44.0,0v-3.2M44.0,488.5v3.2M92.6,0v-3.2M92.6,488.5v3.2M141.2,0v-3.2M141.2,488.5v3.2M189.7,0v-3.2M189.7,488.5v3.2M238.3,0v-3.2M238.3,488.5v3.2M286.9,0v-3.2M286.9,488.5v3.2M335.5,0v-3.2M335.5,488.5v3.2M0,91.8h-3.2M372,91.8h3.2M0,213.9h-3.2M372,213.9h3.2M0,335.8h-3.2M372,335.8h3.2M0,457.7h-3.2M372,457.7h3.2" stroke="#000" stroke-width="2" fill="none"/>
</g>
<g transform="translate(883.0,1045.6)">
<clipPath id="cpi"><rect x="0" y="0" width="372" height="488.5"/></clipPath>
<g clip-path="url(#cpi)">
<polygon points="0.0,3.5 248.0,2.2 239.7,10.4 237.0,15.9 245.2,24.2 234.2,29.7 220.4,38.0 209.4,43.5 198.4,46.2 192.9,40.7 179.1,38.0 165.3,43.5 154.3,49.0 165.3,60.0 179.1,68.3 190.1,65.5 201.2,68.3 212.2,79.3 228.7,87.6 228.7,95.8 214.9,98.6 212.2,104.1 220.4,115.1 217.7,120.6 231.5,131.7 228.7,137.2 239.7,142.7 250.8,142.7 278.3,142.7 275.6,148.2 261.8,153.7 264.5,162.0 261.8,170.2 248.0,170.2 237.0,173.0 228.7,178.5 239.7,186.8 259.0,192.3 281.1,186.8 283.8,178.5 292.1,181.3 294.8,189.5 286.6,200.6 278.3,211.6 264.5,208.8 248.0,214.3 264.5,219.8 267.3,228.1 261.8,236.4 256.3,244.4 192.9,244.4 157.1,200.6 152.9,175.8 143.3,164.7 132.3,131.7 140.5,120.6 124.0,98.6 132.3,65.5 121.2,54.5 118.5,29.7 110.2,24.2 99.2,35.2 96.4,51.8 68.9,58.6 41.3,65.5 0.0,61.4" fill="#ececff"/>
<polygon points="325.2,46.2 338.9,39.4 358.2,46.2 369.2,54.5 369.2,69.7 358.2,68.3 355.5,60.0 341.7,50.4" fill="#ececff"/>
<polygon points="330.7,189.5 337.6,188.2 343.1,190.9 336.2,193.7" fill="#ececff"/>
<polygon points="311.4,221.2 322.4,219.8 325.2,222.6 314.1,224.0" fill="#ececff"/>
<polygon points="363.7,228.1 370.6,224.0 370.6,237.8 366.5,233.6" fill="#ececff"/>
<polygon points="333.4,44.9 341.7,43.5 350.0,46.8 341.7,49.0" fill="#b8d8ff"/>
<polygon points="0.0,3.5 66.1,2.2 82.7,10.4 74.4,18.7 63.4,24.2 57.9,38.0 63.4,49.0 68.9,53.1 55.1,58.6 41.3,65.5 0.0,61.4" fill="#b8d8ff"/>
<polygon points="0.0,3.5 49.6,2.2 55.1,10.4 49.6,21.4 46.8,32.5 52.4,43.5 52.4,60.0 33.1,61.4 11.0,60.0 0.0,58.6" fill="#80c0ff"/>
<polygon points="27.6,46.2 33.1,43.5 37.2,49.0 33.1,53.1 27.6,51.8" fill="#b8d8ff"/>
<polygon points="0.0,10.4 16.5,7.7 33.1,4.9 41.3,13.2 35.8,24.2 27.6,27.0 16.5,24.2 8.3,21.4 0.0,21.4" fill="#60b0ff"/>
<polygon points="121.2,27.0 129.5,21.4 143.3,18.7 159.8,13.2 176.4,4.9 192.9,3.5 209.4,4.9 220.4,10.4 206.7,18.7 198.4,15.9 192.9,21.4 203.9,27.0 192.9,32.5 179.1,35.2 165.3,32.5 154.3,29.7 137.8,32.5 132.3,38.0 137.8,43.5 148.8,54.5 159.8,62.8 170.8,73.8 176.4,82.1 184.6,90.3 187.4,104.1 187.4,115.1 198.4,120.6 209.4,123.4 220.4,128.9 226.0,134.4 217.7,139.9 220.4,148.2 214.9,159.2 209.4,167.5 203.9,178.5 198.4,186.8 203.9,197.8 209.4,206.1 220.4,211.6 228.7,217.1 237.0,225.4 237.0,236.4 239.7,244.4 192.9,244.4 157.1,200.6 152.9,175.8 143.3,164.7 132.3,131.7 140.5,120.6 124.0,98.6 132.3,65.5 121.2,54.5" fill="#b8d8ff"/>
<polygon points="124.0,54.5 132.3,49.0 143.3,54.5 154.3,62.8 165.3,71.0 170.8,79.3 165.3,87.6 154.3,90.3 159.8,95.8 179.1,98.6 181.9,106.9 176.4,112.4 165.3,115.1 154.3,117.9 165.3,120.6 181.9,126.2 190.1,137.2 192.9,145.4 192.9,153.7 187.4,162.0 181.9,170.2 176.4,181.3 176.4,192.3 181.9,200.6 192.9,208.8 198.4,219.8 209.4,225.4 220.4,230.9 226.0,244.4 192.9,244.4 157.1,200.6 152.9,175.8 143.3,164.7 132.3,131.7 140.5,120.6 124.0,98.6 132.3,65.5" fill="#80c0ff"/>
<polygon points="133.6,100.0 140.5,94.5 146.0,100.0 139.2,105.5" fill="#ffffff"/>
<polygon points="137.8,130.3 141.9,126.7 146.0,131.1 141.1,134.4" fill="#ffffff"/>
<polygon points="148.8,159.2 154.3,156.5 159.8,159.8 154.3,162.5" fill="#ffffff"/>
<polygon points="137.8,21.4 143.3,20.1 146.0,23.6 140.5,24.8" fill="#80c0ff"/>
<polygon points="210.8,36.6 214.9,34.7 217.7,38.0 213.6,39.6" fill="#80c0ff"/>
<polygon points="129.5,71.0 143.3,68.3 154.3,71.0 165.3,79.3 157.1,84.8 146.0,87.6 135.0,90.3 129.5,82.1" fill="#60b0ff"/>
<polygon points="165.3,97.2 176.4,95.8 179.1,101.4 170.8,102.7" fill="#60b0ff"/>
<polygon points="148.8,115.1 159.8,109.6 173.6,109.6 184.6,117.9 190.1,128.9 187.4,142.7 181.9,153.7 170.8,159.2 165.3,164.7 170.8,175.8 168.1,186.8 176.4,197.8 192.9,203.3 198.4,217.1 209.4,225.4 214.9,236.4 209.4,244.4 192.9,244.4 157.1,200.6 152.9,175.8 148.8,159.2" fill="#60b0ff"/>
<polygon points="152.9,123.4 159.8,112.4 170.8,109.6 181.9,115.1 188.8,126.2 188.8,139.9 181.9,151.0 170.8,156.5 159.8,153.7 154.3,142.7" fill="#40a0ff"/>
<polygon points="155.7,126.2 162.6,115.1 173.6,113.8 183.2,120.6 186.0,131.7 183.2,142.7 173.6,151.0 164.0,151.0 157.1,142.7" fill="#2090ff"/>
<polygon points="158.4,128.9 165.3,119.3 175.0,117.9 183.2,124.8 184.6,134.4 179.1,144.1 169.5,148.2 161.2,144.1" fill="#0a80ff"/>
<polygon points="162.6,164.7 168.1,162.0 173.6,167.5 168.1,173.0" fill="#40a0ff"/>
<polygon points="322.4,76.6 325.2,75.2 325.2,83.4 338.9,89.0 336.2,94.5 325.2,93.1 322.4,84.8" fill="#ffecec"/>
<polygon points="153.9,184.4 210.9,184.4 207.2,195.4 209.1,206.5 216.4,212.0 229.3,215.7 240.3,217.5 251.4,219.3 266.1,221.2 262.4,228.5 258.7,235.9 251.4,239.6 247.7,245.1 258.7,250.6 269.8,258.0 277.1,263.5 282.6,267.2 275.3,270.8 269.8,276.3 273.4,283.7 275.3,291.1 286.3,296.6 288.1,302.1 291.8,307.6 291.8,316.8 290.0,324.2 295.5,331.5 302.9,337.0 301.0,342.5 306.5,346.2 313.9,349.9 319.4,355.4 321.2,362.8 324.9,368.3 330.4,375.6 336.0,381.2 341.5,386.7 350.7,395.9 347.0,405.1 345.2,414.3 347.0,423.5 341.5,429.0 332.3,430.8 323.1,429.0 313.9,425.3 310.2,427.1 299.2,417.9 299.2,408.7 288.1,395.9 287.2,383.0 275.3,372.0 275.3,360.9 262.4,349.9 251.4,342.5 238.5,335.2 238.5,327.8 226.5,311.3 225.6,305.8 214.6,296.6 213.7,283.7 202.6,267.2 202.6,259.8 177.8,235.9 165.9,220.3 153.9,204.6 153.0,191.8" fill="#ececff"/>
<polygon points="260.6,199.1 269.8,195.4 282.6,191.8 284.5,184.4 295.5,184.4 293.7,195.4 291.8,204.6 286.3,210.1 273.4,210.1 262.4,204.6" fill="#ececff"/>
<polygon points="328.6,190.8 336.0,188.1 343.3,190.8 336.0,193.6" fill="#ececff"/>
<polygon points="310.2,221.2 319.4,219.3 324.9,221.2 321.2,223.9 312.1,223.0" fill="#ececff"/>
<polygon points="365.4,228.5 370.9,226.7 370.9,237.7 367.2,235.9" fill="#ececff"/>
<polygon points="315.7,296.6 323.1,292.9 329.5,296.6 323.1,300.3" fill="#ececff"/>
<polygon points="332.3,320.1 335.6,318.3 338.2,320.1 335.6,322.0" fill="#ececff"/>
<polygon points="345.2,258.0 347.9,256.5 350.7,258.3 347.9,259.8" fill="#ececff"/>
<polygon points="153.9,184.4 199.9,184.4 203.6,195.4 199.9,206.5 205.4,213.8 218.3,215.7 229.3,219.3 233.0,226.7 240.3,234.1 242.2,243.2 247.7,250.6 258.7,254.3 269.8,261.6 277.1,265.3 269.8,270.8 266.1,280.0 269.8,287.4 273.4,294.7 282.6,300.3 288.1,305.8 288.1,313.1 284.5,320.5 282.6,327.8 286.3,335.2 291.8,340.7 302.9,344.4 312.1,349.9 315.7,357.3 317.6,366.5 324.9,373.8 332.3,381.2 336.0,388.5 343.3,395.9 345.2,405.1 341.5,414.3 339.6,421.6 332.3,425.3 324.9,423.5 317.6,419.8 312.1,414.3 306.5,408.7 299.2,408.7 288.1,395.9 287.2,383.0 275.3,372.0 275.3,360.9 262.4,349.9 251.4,342.5 238.5,335.2 238.5,327.8 226.5,311.3 225.6,305.8 214.6,296.6 213.7,283.7 202.6,267.2 202.6,259.8 177.8,235.9 165.9,220.3 153.9,204.6 153.0,191.8" fill="#b8d8ff"/>
<polygon points="256.9,267.2 262.4,262.0 269.8,266.2 263.3,272.3" fill="#ececff"/>
<polygon points="152.1,184.4 176.0,184.4 190.7,184.4 194.4,191.8 192.5,199.1 190.7,208.3 198.0,215.7 207.2,219.3 218.3,223.0 225.6,228.5 229.3,237.7 233.0,246.9 236.7,254.3 240.3,261.6 249.5,265.3 258.7,269.0 266.1,276.3 266.1,283.7 269.8,291.1 275.3,298.4 280.8,305.8 280.8,313.1 277.1,320.5 277.1,327.8 279.0,337.0 284.5,342.5 295.5,346.2 306.5,348.1 312.1,353.6 312.1,362.8 313.9,370.1 323.1,379.3 330.4,384.8 332.3,392.2 324.9,397.7 324.9,403.2 332.3,408.7 337.8,416.1 336.0,423.5 328.6,423.5 321.2,419.8 313.9,414.3 310.2,408.7 304.7,405.1 288.1,395.9 287.2,383.0 275.3,372.0 275.3,360.9 262.4,349.9 251.4,342.5 238.5,335.2 238.5,327.8 226.5,311.3 225.6,305.8 214.6,296.6 213.7,283.7 202.6,267.2 202.6,259.8 177.8,235.9 165.9,220.3 153.9,204.6 153.0,191.8" fill="#80c0ff"/>
<polygon points="152.1,184.4 183.3,184.4 188.8,195.4 185.2,202.8 183.3,208.3 192.5,215.7 203.6,221.2 212.8,224.9 218.3,232.2 221.9,239.6 229.3,246.9 233.0,254.3 240.3,265.3 249.5,270.8 258.7,276.3 262.4,281.9 266.1,289.2 269.8,296.6 273.4,305.8 273.4,315.0 271.6,322.3 275.3,331.5 273.4,338.9 277.1,344.4 288.1,346.2 302.9,348.1 310.2,351.7 308.4,357.3 306.5,364.6 312.1,372.0 321.2,379.3 328.6,386.7 328.6,390.4 321.2,392.2 313.9,390.4 306.5,386.7 299.2,383.0 291.8,379.3 287.2,383.0 275.3,372.0 275.3,360.9 262.4,349.9 251.4,342.5 238.5,335.2 238.5,327.8 226.5,311.3 225.6,305.8 214.6,296.6 213.7,283.7 202.6,267.2 202.6,259.8 177.8,235.9 165.9,220.3 153.9,204.6 153.0,191.8" fill="#60b0ff"/>
<polygon points="319.4,410.6 324.9,408.7 334.1,416.1 336.0,421.6 328.6,421.6 323.1,417.9" fill="#60b0ff"/>
<polygon points="280.8,353.6 291.8,349.9 306.5,349.9 313.9,349.9 315.7,353.6 308.4,357.3 302.9,360.9 306.5,368.3 312.1,373.8 321.2,381.2 326.8,386.7 321.2,390.4 312.1,386.7 302.9,383.0 295.5,379.3 290.0,377.5 287.2,383.0 275.3,372.0 277.1,360.9 275.3,360.9" fill="#40a0ff"/>
<polygon points="166.8,212.0 176.0,210.1 188.8,217.5 199.9,224.9 209.1,232.2 216.4,239.6 221.9,246.9 225.6,254.3 229.3,261.6 236.7,270.8 244.0,276.3 255.0,280.0 262.4,283.7 264.2,291.1 258.7,298.4 262.4,305.8 269.8,313.1 269.8,322.3 262.4,324.2 255.0,326.0 247.7,324.2 244.0,329.7 238.5,327.8 226.5,311.3 225.6,305.8 214.6,296.6 213.7,283.7 202.6,267.2 202.6,259.8 177.8,235.9 165.9,220.3 153.9,204.6 153.0,191.8" fill="#40a0ff"/>
<polygon points="158.4,201.0 167.7,200.0 178.1,201.0 188.5,197.9 195.7,200.0 190.6,205.1 198.9,211.4 207.1,215.5 214.4,221.7 219.6,228.0 221.7,233.1 219.6,240.4 221.7,246.6 225.8,254.9 230.0,263.2 240.3,267.4 250.7,273.6 263.1,277.7 269.4,284.0 261.1,288.1 256.9,294.3 263.1,300.5 269.4,308.8 267.3,317.1 259.0,319.2 250.7,321.3 259.0,325.4 261.1,331.7 254.9,333.7 250.7,333.7 237.2,322.3 213.4,275.7 211.3,263.2 208.2,257.0 176.0,228.0 156.3,198.9 152.2,184.4" fill="#40a0ff"/>
<polygon points="178.1,209.3 190.6,208.3 200.9,215.5 205.1,225.9 203.0,234.2 209.2,239.4 219.6,246.6 219.6,252.8 209.2,257.0 193.7,246.6 181.2,234.2 176.0,228.0 172.9,218.6" fill="#2090ff"/>
<polygon points="215.4,269.4 223.7,266.3 238.3,269.4 242.4,274.6 242.4,284.0 236.2,288.1 227.9,288.1 219.6,284.0 214.4,275.7" fill="#2090ff"/>
<polygon points="246.6,306.8 256.9,304.7 269.4,310.9 266.3,316.1 255.9,317.1 246.6,314.0" fill="#2090ff"/>
<polygon points="240.3,323.4 246.6,322.3 259.0,325.4 256.9,330.6 250.7,332.7 244.5,328.5" fill="#2090ff"/>
<polygon points="182.3,219.7 190.6,214.5 198.9,219.7 203.0,225.9 198.9,232.1 190.6,234.2 183.3,230.0" fill="#0a80ff"/>
<polygon points="200.9,242.5 209.2,240.4 217.5,246.6 218.6,251.8 211.3,254.9 205.1,250.8" fill="#0a80ff"/>
<polygon points="217.5,270.5 225.8,268.4 236.2,271.5 240.3,275.7 238.3,284.0 232.0,286.0 225.8,284.0 219.6,277.7 215.4,274.6" fill="#0a80ff"/>
<polygon points="250.7,308.8 259.0,306.8 267.3,310.9 265.2,315.1 256.9,314.0" fill="#0a80ff"/>
<polygon points="246.6,325.4 252.8,323.4 259.0,326.5 254.9,329.6 248.6,329.6" fill="#0a80ff"/>
<polygon points="174.0,205.1 178.1,204.1 180.2,206.7 176.0,207.7" fill="#0a80ff"/>
<polygon points="253.8,244.0 262.1,238.3 271.4,244.0 262.1,249.7" fill="#40a0ff"/>
<polygon points="258.0,244.0 262.1,241.2 267.3,244.0 262.1,246.6" fill="#0a80ff"/>
<polygon points="256.9,266.3 262.1,261.7 267.3,266.3 262.1,272.5" fill="#ececff"/>
<polygon points="302.9,350.8 311.1,348.1 317.6,351.7 311.1,354.5" fill="#2090ff"/>
<polygon points="233.0,290.1 238.5,285.9 245.9,290.1 238.5,294.7" fill="#ffffff"/>
<polygon points="236.7,290.1 238.5,288.9 240.3,290.1 238.5,291.4" fill="#ff8080"/>
<polygon points="256.9,296.9 262.4,293.3 271.6,296.9 263.3,300.6" fill="#ffffff"/>
<polygon points="260.6,296.9 263.3,295.3 267.0,296.9 263.3,298.6" fill="#ff4040"/>
<polygon points="329.5,358.2 335.0,355.4 341.5,358.2 335.0,360.9" fill="#ffecec"/>
<polygon points="332.3,358.2 335.0,356.9 338.2,358.2 335.0,359.5" fill="#ffb8b8"/>
<polygon points="343.3,373.4 348.8,371.0 355.3,373.4 348.8,376.0" fill="#ffecec"/>
<polygon points="346.1,373.4 348.8,372.0 352.1,373.4 348.8,374.9" fill="#ffb8b8"/>
<polygon points="263.0,337.7 280.8,337.7 298.6,342.2 309.2,344.8 319.0,351.1 314.6,358.2 316.3,363.5 321.7,370.6 334.1,374.2 341.2,381.3 343.0,388.4 351.0,396.4 346.6,402.6 346.6,409.7 347.4,418.6 346.6,426.6 341.2,429.3 334.1,430.2 327.0,429.3 318.1,427.5 312.8,424.8 309.2,424.8 302.1,418.6 299.4,418.6 299.4,409.7 296.8,398.2 291.4,395.5 287.0,395.5 287.0,384.8 278.1,372.4 275.4,372.4 275.4,361.7 263.0,346.6" fill="#ececff"/>
<polygon points="267.4,342.2 273.7,339.5 284.3,337.7 288.8,344.8 296.8,346.6 308.3,345.7 317.2,351.1 312.8,358.2 311.9,361.7 318.1,368.8 323.4,374.2 331.4,376.8 335.9,382.2 336.8,388.4 332.3,393.7 330.6,397.3 335.0,403.5 335.9,409.7 339.4,418.6 335.9,424.8 330.6,426.6 323.4,424.8 317.2,420.4 312.8,418.6 309.2,424.8 302.1,418.6 299.4,418.6 299.4,409.7 296.8,398.2 291.4,395.5 287.0,395.5 287.0,384.8 278.1,372.4 275.4,372.4 275.4,361.7 267.4,351.1" fill="#b8d8ff"/>
<polygon points="269.2,344.0 276.3,342.2 284.3,344.0 287.9,348.4 282.6,353.7 289.7,354.6 302.1,352.8 309.2,347.5 316.3,351.1 311.0,357.3 309.2,361.7 312.8,367.1 319.9,370.6 327.0,374.2 334.1,381.3 335.0,387.5 330.6,392.0 325.2,393.7 323.4,397.3 327.9,402.6 335.0,406.2 335.9,409.7 332.3,413.3 327.0,415.1 320.8,413.3 314.6,415.1 309.2,413.3 304.8,413.3 302.1,418.6 299.4,418.6 299.4,409.7 296.8,398.2 291.4,395.5 287.0,384.8 278.1,372.4 275.4,372.4 275.4,361.7 269.2,351.1" fill="#80c0ff"/>
<polygon points="278.1,358.2 287.0,356.4 300.3,353.7 304.8,351.1 311.0,350.2 316.3,351.1 312.8,354.6 305.7,358.2 303.9,361.7 309.2,365.3 305.7,367.1 302.1,370.6 307.4,376.0 314.6,377.7 323.4,381.3 327.0,385.7 330.6,388.4 325.2,392.0 319.9,392.8 314.6,392.0 309.2,390.2 302.1,388.4 296.8,386.6 293.2,381.3 289.7,377.7 287.0,377.7 278.1,360.0" fill="#60b0ff"/>
<polygon points="319.9,409.7 323.4,408.8 328.8,412.4 332.3,415.1 335.9,418.6 335.9,420.4 332.3,421.3 327.0,417.7 322.6,413.3" fill="#60b0ff"/>
<polygon points="304.8,351.1 311.0,348.4 316.3,351.1 312.8,352.8 308.3,352.8" fill="#40a0ff"/>
<polygon points="314.6,388.4 323.4,385.7 327.0,386.6 325.2,389.3 318.1,390.2" fill="#40a0ff"/>
<polygon points="287.0,384.8 291.4,384.8 291.4,395.5 287.0,395.5" fill="#b8d8ff"/>
</g>
<use href="#coast"/>
<rect x="0" y="0" width="372" height="488.5" fill="none" stroke="#000" stroke-width="2.2"/>
<path d="M44.0,0v-3.2M44.0,488.5v3.2M92.6,0v-3.2M92.6,488.5v3.2M141.2,0v-3.2M141.2,488.5v3.2M189.7,0v-3.2M189.7,488.5v3.2M238.3,0v-3.2M238.3,488.5v3.2M286.9,0v-3.2M286.9,488.5v3.2M335.5,0v-3.2M335.5,488.5v3.2M0,91.8h-3.2M372,91.8h3.2M0,213.9h-3.2M372,213.9h3.2M0,335.8h-3.2M372,335.8h3.2M0,457.7h-3.2M372,457.7h3.2" stroke="#000" stroke-width="2" fill="none"/>
</g>
<text transform="matrix(1.1874,0,0,1.0267,233.81,25.04)" font-size="34">Excess</text>
<text transform="matrix(1.1801,0,0,0.9608,626.71,24.82)" font-size="34">Deficit</text>
<text transform="matrix(1.1678,0,0,0.9583,991.32,24.96)" font-size="34">Difference</text>
<text transform="matrix(1.0602,0,0,0.9853,0.41,135.85)" font-size="35">20°N</text>
<text transform="matrix(1.0535,0,0,0.9979,1.20,258.65)" font-size="35">16°N</text>
<text transform="matrix(1.0563,0,0,0.9915,1.00,380.40)" font-size="35">12°N</text>
<text transform="matrix(1.0564,0,0,0.9811,19.48,502.35)" font-size="35">8°N</text>
<text transform="matrix(1.0602,0,0,0.9853,0.41,641.05)" font-size="35">20°N</text>
<text transform="matrix(1.0535,0,0,0.9979,1.20,763.85)" font-size="35">16°N</text>
<text transform="matrix(1.0563,0,0,0.9915,1.00,885.60)" font-size="35">12°N</text>
<text transform="matrix(1.0564,0,0,0.9811,19.48,1007.55)" font-size="35">8°N</text>
<text transform="matrix(1.0602,0,0,0.9853,0.41,1146.45)" font-size="35">20°N</text>
<text transform="matrix(1.0535,0,0,0.9979,1.20,1269.25)" font-size="35">16°N</text>
<text transform="matrix(1.0563,0,0,0.9915,1.00,1391.00)" font-size="35">12°N</text>
<text transform="matrix(1.0564,0,0,0.9811,19.48,1512.95)" font-size="35">8°N</text>
<text transform="matrix(1.0584,0,0,0.9745,102.63,1574.30)" font-size="35">71°E</text>
<text transform="matrix(1.0584,0,0,0.9745,248.37,1574.30)" font-size="35">74°E</text>
<text transform="matrix(1.0584,0,0,0.9745,394.11,1574.30)" font-size="35">77°E</text>
<text transform="matrix(1.0584,0,0,0.9745,495.63,1574.30)" font-size="35">71°E</text>
<text transform="matrix(1.0584,0,0,0.9745,641.37,1574.30)" font-size="35">74°E</text>
<text transform="matrix(1.0584,0,0,0.9745,787.11,1574.30)" font-size="35">77°E</text>
<text transform="matrix(1.0584,0,0,0.9745,888.63,1574.30)" font-size="35">71°E</text>
<text transform="matrix(1.0584,0,0,0.9745,1034.37,1574.30)" font-size="35">74°E</text>
<text transform="matrix(1.0584,0,0,0.9745,1180.11,1574.30)" font-size="35">77°E</text>
<text transform="matrix(1.1341,0,0,0.9811,119.00,157.85)" font-size="50">a</text>
<text transform="matrix(1.1280,0,0,0.9829,510.95,157.51)" font-size="50">b</text>
<text transform="matrix(1.1636,0,0,0.9542,917.96,157.42)" font-size="50">c</text>
<text transform="matrix(1.1683,0,0,1.0257,118.36,662.59)" font-size="50">d</text>
<text transform="matrix(1.2831,0,0,0.9917,511.05,662.50)" font-size="50">e</text>
<text transform="matrix(1.2706,0,0,0.9971,918.78,662.60)" font-size="50">f</text>
<text transform="matrix(1.2129,0,0,0.9534,118.78,1166.61)" font-size="50">g</text>
<text transform="matrix(1.2078,0,0,1.0174,511.19,1167.80)" font-size="50">h</text>
<text transform="matrix(1.2327,0,0,1.0174,918.57,1167.80)" font-size="50">i</text>
<text transform="matrix(1.2467,0,0,1.0189,1327.01,380.40)" font-size="36">7</text>
<text transform="matrix(1.1873,0,0,0.9979,1328.02,441.52)" font-size="36">6</text>
<text transform="matrix(1.2262,0,0,1.0083,1327.66,502.88)" font-size="36">5</text>
<text transform="matrix(1.1164,0,0,1.0298,1328.94,564.75)" font-size="36">4</text>
<text transform="matrix(1.2065,0,0,0.9979,1327.99,625.61)" font-size="36">3</text>
<text transform="matrix(1.2467,0,0,1.0189,1327.63,687.23)" font-size="36">2</text>
<text transform="matrix(1.0566,0,0,1.0189,1328.73,748.59)" font-size="36">1</text>
<text transform="matrix(1.2467,0,0,0.9979,1327.63,809.71)" font-size="36">0</text>
<text transform="matrix(1.0000,0,0,1.0189,1317.45,871.32)" font-size="36">-1</text>
<text transform="matrix(1.0752,0,0,1.0189,1317.36,932.69)" font-size="36">-2</text>
<text transform="matrix(1.0655,0,0,0.9979,1317.37,993.80)" font-size="36">-3</text>
<text transform="matrix(1.0464,0,0,1.0298,1317.39,1055.67)" font-size="36">-4</text>
<text transform="matrix(1.0655,0,0,1.0083,1317.37,1116.53)" font-size="36">-5</text>
<text transform="matrix(1.0559,0,0,0.9979,1317.38,1177.90)" font-size="36">-6</text>
<text transform="matrix(1.0559,0,0,1.0189,1317.38,1239.51)" font-size="36">-7</text>
<rect x="1270.5" y="369.60" width="26.5" height="61.37" fill="#2090ff"/>
<rect x="1270.5" y="430.97" width="26.5" height="61.37" fill="#40a0ff"/>
<rect x="1270.5" y="492.33" width="26.5" height="61.37" fill="#60b0ff"/>
<rect x="1270.5" y="553.70" width="26.5" height="61.37" fill="#80c0ff"/>
<rect x="1270.5" y="615.06" width="26.5" height="61.36" fill="#b8d8ff"/>
<rect x="1270.5" y="676.42" width="26.5" height="61.37" fill="#ececff"/>
<rect x="1270.5" y="737.79" width="26.5" height="61.37" fill="#ffffff"/>
<rect x="1270.5" y="799.15" width="26.5" height="61.37" fill="#ffffff"/>
<rect x="1270.5" y="860.52" width="26.5" height="61.37" fill="#ffecec"/>
<rect x="1270.5" y="921.88" width="26.5" height="61.37" fill="#ffb8b8"/>
<rect x="1270.5" y="983.25" width="26.5" height="61.37" fill="#ff8080"/>
<rect x="1270.5" y="1044.62" width="26.5" height="61.37" fill="#ff6060"/>
<rect x="1270.5" y="1105.98" width="26.5" height="61.37" fill="#ff4040"/>
<rect x="1270.5" y="1167.35" width="26.5" height="61.37" fill="#ff2020"/>
<polygon points="1270.5,369.6 1283.8,308.8 1297.0,369.6" fill="#0a80ff" stroke="#000" stroke-width="1.8" stroke-linejoin="miter"/>
<polygon points="1270.5,1228.7 1283.8,1291 1297.0,1228.7" fill="#ff0000" stroke="#000" stroke-width="1.8"/>
<rect x="1270.5" y="369.6" width="26.5" height="859.1" fill="none" stroke="#000" stroke-width="1.8"/>
<path d="M1270.5,430.97H1297.0M1270.5,492.33H1297.0M1270.5,553.70H1297.0M1270.5,615.06H1297.0M1270.5,676.42H1297.0M1270.5,737.79H1297.0M1270.5,799.15H1297.0M1270.5,860.52H1297.0M1270.5,921.88H1297.0M1270.5,983.25H1297.0M1270.5,1044.62H1297.0M1270.5,1105.98H1297.0M1270.5,1167.35H1297.0" stroke="#000" stroke-width="1.8"/>
</svg></body></html>
